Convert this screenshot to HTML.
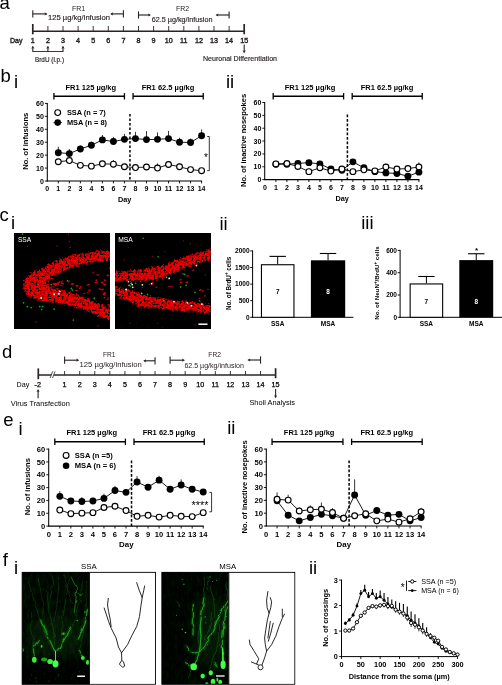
<!DOCTYPE html>
<html><head><meta charset="utf-8"><title>Figure</title>
<style>
html,body{margin:0;padding:0;background:#fff;}
body{width:502px;height:685px;overflow:hidden;}
svg{display:block;font-family:'Liberation Sans', sans-serif;}
</style></head><body>
<svg width="502" height="685" viewBox="0 0 502 685">
<defs>
<filter id="rough" x="-10%" y="-10%" width="120%" height="120%" color-interpolation-filters="sRGB">
<feGaussianBlur in="SourceAlpha" stdDeviation="2.4" result="soft"/>
<feTurbulence type="fractalNoise" baseFrequency="0.5" numOctaves="2" seed="4" result="n"/>
<feColorMatrix in="n" type="matrix" values="0 0 0 0 0  0 0 0 0 0  0 0 0 0 0  1 0 0 0 0" result="na"/>
<feComposite in="soft" in2="na" operator="arithmetic" k1="2.8" k2="-0.4" k3="0" k4="-0.47" result="sum"/>
<feComponentTransfer in="sum" result="mask"><feFuncA type="linear" slope="3.2" intercept="0"/></feComponentTransfer>
<feFlood flood-color="#ec0000" result="red"/>
<feComposite in="red" in2="mask" operator="in" result="band"/>
<feTurbulence type="fractalNoise" baseFrequency="0.42" numOctaves="2" seed="9" result="n2"/>
<feColorMatrix in="n2" type="matrix" values="0 0 0 0 0.25  0 0 0 0 0  0 0 0 0 0  0 2.2 0 0 -1.05" result="sp"/>
<feComposite in="sp" in2="mask" operator="in" result="sp2"/>
<feMerge><feMergeNode in="band"/><feMergeNode in="sp2"/></feMerge>
</filter>
<filter id="wig" x="-20%" y="-20%" width="140%" height="140%"><feTurbulence type="fractalNoise" baseFrequency="0.12" numOctaves="2" seed="21" result="t"/><feDisplacementMap in="SourceGraphic" in2="t" scale="4" xChannelSelector="R" yChannelSelector="G"/><feGaussianBlur stdDeviation="0.4"/></filter>
<filter id="wig2" x="-20%" y="-20%" width="140%" height="140%"><feTurbulence type="fractalNoise" baseFrequency="0.12" numOctaves="2" seed="21" result="t"/><feDisplacementMap in="SourceGraphic" in2="t" scale="4" xChannelSelector="R" yChannelSelector="G"/><feGaussianBlur stdDeviation="1.1"/></filter>
<filter id="b03"><feGaussianBlur stdDeviation="0.3"/></filter>
<filter id="b05"><feGaussianBlur stdDeviation="0.5"/></filter>
<filter id="b08"><feGaussianBlur stdDeviation="0.8"/></filter>
<filter id="b2"><feGaussianBlur stdDeviation="2.2"/></filter>
<filter id="b6"><feGaussianBlur stdDeviation="6"/></filter>
<filter id="gnoise" x="0" y="0" width="100%" height="100%" color-interpolation-filters="sRGB">
<feTurbulence type="fractalNoise" baseFrequency="0.3 0.13" numOctaves="3" seed="5"/>
<feColorMatrix type="matrix" values="0 0 0 0 0  0 1.1 0 0 -0.46  0 0 0 0 0  0 0 0 0 1"/>
</filter>
<filter id="gnoise2" x="0" y="0" width="100%" height="100%" color-interpolation-filters="sRGB">
<feTurbulence type="fractalNoise" baseFrequency="0.32 0.14" numOctaves="3" seed="12"/>
<feColorMatrix type="matrix" values="0 0 0 0 0  0 1.1 0 0 -0.47  0 0 0 0 0  0 0 0 0 1"/>
</filter>
<linearGradient id="fade1" x1="0" y1="0" x2="0" y2="1"><stop offset="0" stop-color="#000" stop-opacity="0.15"/><stop offset="0.75" stop-color="#000" stop-opacity="0.05"/><stop offset="0.84" stop-color="#000" stop-opacity="0.8"/><stop offset="1" stop-color="#000" stop-opacity="0.85"/></linearGradient>
<linearGradient id="fade2" x1="0" y1="0" x2="1" y2="0"><stop offset="0" stop-color="#000" stop-opacity="0.9"/><stop offset="0.3" stop-color="#000" stop-opacity="0.75"/><stop offset="0.6" stop-color="#000" stop-opacity="0.3"/><stop offset="1" stop-color="#000" stop-opacity="0.25"/></linearGradient>
<clipPath id="c1"><rect x="14" y="233" width="96" height="96"/></clipPath>
<clipPath id="c2"><rect x="115" y="233" width="96" height="96"/></clipPath>
<clipPath id="g1"><rect x="22.2" y="572.2" width="67" height="112"/></clipPath>
<clipPath id="g2"><rect x="161.8" y="572.2" width="66.8" height="112"/></clipPath>
</defs>
<rect width="502" height="685" fill="#fff"/>
<text x="-0.60" y="9.40" font-size="18.5" >a</text>
<text x="0.60" y="81.70" font-size="18.5" >b</text>
<text x="14.00" y="88.20" font-size="18.5" >i</text>
<text x="226.00" y="88.20" font-size="18.5" >ii</text>
<text x="-0.60" y="220.50" font-size="18.5" >c</text>
<text x="11.00" y="228.80" font-size="18.5" >i</text>
<text x="219.40" y="230.00" font-size="18.5" >ii</text>
<text x="361.20" y="229.20" font-size="18.5" >iii</text>
<text x="2.00" y="358.20" font-size="18.5" >d</text>
<text x="3.20" y="426.00" font-size="18.5" >e</text>
<text x="18.40" y="435.00" font-size="18.5" >i</text>
<text x="227.20" y="433.60" font-size="18.5" >ii</text>
<text x="2.80" y="566.40" font-size="18.5" >f</text>
<text x="14.00" y="574.00" font-size="18.5" >i</text>
<text x="309.00" y="573.50" font-size="18.5" >ii</text>
<line x1="32.80" y1="31.30" x2="244.20" y2="31.30" stroke="#2a2324" stroke-width="1.5" />
<line x1="32.80" y1="24.00" x2="32.80" y2="34.30" stroke="#2a2324" stroke-width="1.7" />
<line x1="244.20" y1="24.00" x2="244.20" y2="34.30" stroke="#2a2324" stroke-width="1.7" />
<line x1="47.90" y1="26.00" x2="47.90" y2="31.30" stroke="#2a2324" stroke-width="0.9" />
<line x1="63.00" y1="26.00" x2="63.00" y2="31.30" stroke="#2a2324" stroke-width="0.9" />
<line x1="78.10" y1="26.00" x2="78.10" y2="31.30" stroke="#2a2324" stroke-width="0.9" />
<line x1="93.20" y1="26.00" x2="93.20" y2="31.30" stroke="#2a2324" stroke-width="0.9" />
<line x1="108.30" y1="26.00" x2="108.30" y2="31.30" stroke="#2a2324" stroke-width="0.9" />
<line x1="123.40" y1="26.00" x2="123.40" y2="31.30" stroke="#2a2324" stroke-width="0.9" />
<line x1="138.50" y1="26.00" x2="138.50" y2="31.30" stroke="#2a2324" stroke-width="0.9" />
<line x1="153.60" y1="26.00" x2="153.60" y2="31.30" stroke="#2a2324" stroke-width="0.9" />
<line x1="168.70" y1="26.00" x2="168.70" y2="31.30" stroke="#2a2324" stroke-width="0.9" />
<line x1="183.80" y1="26.00" x2="183.80" y2="31.30" stroke="#2a2324" stroke-width="0.9" />
<line x1="198.90" y1="26.00" x2="198.90" y2="31.30" stroke="#2a2324" stroke-width="0.9" />
<line x1="214.00" y1="26.00" x2="214.00" y2="31.30" stroke="#2a2324" stroke-width="0.9" />
<line x1="229.10" y1="26.00" x2="229.10" y2="31.30" stroke="#2a2324" stroke-width="0.9" />
<text x="10.00" y="42.60" font-size="7.0" fill="#2a2324" stroke="#2a2324" stroke-width="0.4" >Day</text>
<text x="32.80" y="42.80" font-size="7.2" text-anchor="middle" fill="#2a2324" stroke="#2a2324" stroke-width="0.4" >1</text>
<text x="47.90" y="42.80" font-size="7.2" text-anchor="middle" fill="#2a2324" stroke="#2a2324" stroke-width="0.4" >2</text>
<text x="63.00" y="42.80" font-size="7.2" text-anchor="middle" fill="#2a2324" stroke="#2a2324" stroke-width="0.4" >3</text>
<text x="78.10" y="42.80" font-size="7.2" text-anchor="middle" fill="#2a2324" stroke="#2a2324" stroke-width="0.4" >4</text>
<text x="93.20" y="42.80" font-size="7.2" text-anchor="middle" fill="#2a2324" stroke="#2a2324" stroke-width="0.4" >5</text>
<text x="108.30" y="42.80" font-size="7.2" text-anchor="middle" fill="#2a2324" stroke="#2a2324" stroke-width="0.4" >6</text>
<text x="123.40" y="42.80" font-size="7.2" text-anchor="middle" fill="#2a2324" stroke="#2a2324" stroke-width="0.4" >7</text>
<text x="138.50" y="42.80" font-size="7.2" text-anchor="middle" fill="#2a2324" stroke="#2a2324" stroke-width="0.4" >8</text>
<text x="153.60" y="42.80" font-size="7.2" text-anchor="middle" fill="#2a2324" stroke="#2a2324" stroke-width="0.4" >9</text>
<text x="168.70" y="42.80" font-size="7.2" text-anchor="middle" fill="#2a2324" stroke="#2a2324" stroke-width="0.4" >10</text>
<text x="183.80" y="42.80" font-size="7.2" text-anchor="middle" fill="#2a2324" stroke="#2a2324" stroke-width="0.4" >11</text>
<text x="198.90" y="42.80" font-size="7.2" text-anchor="middle" fill="#2a2324" stroke="#2a2324" stroke-width="0.4" >12</text>
<text x="214.00" y="42.80" font-size="7.2" text-anchor="middle" fill="#2a2324" stroke="#2a2324" stroke-width="0.4" >13</text>
<text x="229.10" y="42.80" font-size="7.2" text-anchor="middle" fill="#2a2324" stroke="#2a2324" stroke-width="0.4" >14</text>
<text x="244.20" y="42.80" font-size="7.2" text-anchor="middle" fill="#2a2324" stroke="#2a2324" stroke-width="0.4" >15</text>
<text x="78.50" y="11.30" font-size="7.0" text-anchor="middle" fill="#2a2324" >FR1</text>
<line x1="32.80" y1="10.30" x2="32.80" y2="17.50" stroke="#2a2324" stroke-width="1.1" />
<line x1="32.80" y1="13.90" x2="46.50" y2="13.90" stroke="#2a2324" stroke-width="1.15" />
<path d="M47.50 13.90 l-3.0 -1.6 l0.7 1.6 l-0.7 1.6z" fill="#2a2324"/>
<text x="47.90" y="20.20" font-size="7.6" fill="#2a2324" textLength="62.1" lengthAdjust="spacingAndGlyphs" stroke="#2a2324" stroke-width="0.15" >125 µg/kg/infusion</text>
<line x1="123.40" y1="10.30" x2="123.40" y2="17.50" stroke="#2a2324" stroke-width="1.1" />
<line x1="111.20" y1="13.90" x2="123.40" y2="13.90" stroke="#2a2324" stroke-width="1.15" />
<path d="M110.20 13.90 l3.0 -1.6 l-0.7 1.6 l0.7 1.6z" fill="#2a2324"/>
<text x="182.50" y="11.30" font-size="7.0" text-anchor="middle" fill="#2a2324" >FR2</text>
<line x1="138.50" y1="11.40" x2="138.50" y2="18.60" stroke="#2a2324" stroke-width="1.1" />
<line x1="138.50" y1="15.00" x2="150.00" y2="15.00" stroke="#2a2324" stroke-width="1.15" />
<path d="M151.00 15.00 l-3.0 -1.6 l0.7 1.6 l-0.7 1.6z" fill="#2a2324"/>
<text x="151.80" y="21.50" font-size="7.6" fill="#2a2324" textLength="60.6" lengthAdjust="spacingAndGlyphs" stroke="#2a2324" stroke-width="0.15" >62.5 µg/kg/infusion</text>
<line x1="229.10" y1="11.40" x2="229.10" y2="18.60" stroke="#2a2324" stroke-width="1.1" />
<line x1="216.50" y1="15.00" x2="229.10" y2="15.00" stroke="#2a2324" stroke-width="1.15" />
<path d="M215.50 15.00 l3.0 -1.6 l-0.7 1.6 l0.7 1.6z" fill="#2a2324"/>
<line x1="32.80" y1="51.50" x2="32.80" y2="46.80" stroke="#2a2324" stroke-width="1.1" />
<path d="M32.80 45.80 l-1.6 3.00 l1.6 -0.70 l1.6 0.70z" fill="#2a2324"/>
<line x1="47.90" y1="51.50" x2="47.90" y2="46.80" stroke="#2a2324" stroke-width="1.1" />
<path d="M47.90 45.80 l-1.6 3.00 l1.6 -0.70 l1.6 0.70z" fill="#2a2324"/>
<line x1="63.00" y1="51.50" x2="63.00" y2="46.80" stroke="#2a2324" stroke-width="1.1" />
<path d="M63.00 45.80 l-1.6 3.00 l1.6 -0.70 l1.6 0.70z" fill="#2a2324"/>
<line x1="32.35" y1="51.50" x2="63.45" y2="51.50" stroke="#2a2324" stroke-width="0.9" />
<text x="49.50" y="61.50" font-size="6.6" text-anchor="middle" fill="#2a2324" textLength="29.0" lengthAdjust="spacingAndGlyphs" stroke="#2a2324" stroke-width="0.15" >BrdU (i.p.)</text>
<line x1="244.20" y1="44.60" x2="244.20" y2="52.20" stroke="#2a2324" stroke-width="1.1" />
<path d="M244.20 53.20 l-1.6 -3.00 l1.6 0.70 l1.6 -0.70z" fill="#2a2324"/>
<text x="240.00" y="60.60" font-size="7.0" text-anchor="middle" fill="#2a2324" textLength="74.0" lengthAdjust="spacingAndGlyphs" stroke="#2a2324" stroke-width="0.15" >Neuronal Differentiation</text>
<line x1="38.30" y1="375.00" x2="51.30" y2="375.00" stroke="#2a2324" stroke-width="1.5" />
<line x1="54.00" y1="375.00" x2="275.60" y2="375.00" stroke="#2a2324" stroke-width="1.5" />
<line x1="38.30" y1="368.40" x2="38.30" y2="379.20" stroke="#2a2324" stroke-width="1.7" />
<line x1="275.60" y1="368.20" x2="275.60" y2="378.20" stroke="#2a2324" stroke-width="1.7" />
<line x1="50.20" y1="378.00" x2="52.60" y2="371.40" stroke="#2a2324" stroke-width="0.8" />
<line x1="52.60" y1="378.00" x2="55.00" y2="371.40" stroke="#2a2324" stroke-width="0.8" />
<line x1="64.62" y1="371.00" x2="64.62" y2="375.00" stroke="#2a2324" stroke-width="0.9" />
<line x1="79.69" y1="371.00" x2="79.69" y2="375.00" stroke="#2a2324" stroke-width="0.9" />
<line x1="94.76" y1="371.00" x2="94.76" y2="375.00" stroke="#2a2324" stroke-width="0.9" />
<line x1="109.83" y1="371.00" x2="109.83" y2="375.00" stroke="#2a2324" stroke-width="0.9" />
<line x1="124.90" y1="371.00" x2="124.90" y2="375.00" stroke="#2a2324" stroke-width="0.9" />
<line x1="139.97" y1="371.00" x2="139.97" y2="375.00" stroke="#2a2324" stroke-width="0.9" />
<line x1="155.04" y1="371.00" x2="155.04" y2="375.00" stroke="#2a2324" stroke-width="0.9" />
<line x1="170.11" y1="371.00" x2="170.11" y2="375.00" stroke="#2a2324" stroke-width="0.9" />
<line x1="185.18" y1="371.00" x2="185.18" y2="375.00" stroke="#2a2324" stroke-width="0.9" />
<line x1="200.25" y1="371.00" x2="200.25" y2="375.00" stroke="#2a2324" stroke-width="0.9" />
<line x1="215.32" y1="371.00" x2="215.32" y2="375.00" stroke="#2a2324" stroke-width="0.9" />
<line x1="230.39" y1="371.00" x2="230.39" y2="375.00" stroke="#2a2324" stroke-width="0.9" />
<line x1="245.46" y1="371.00" x2="245.46" y2="375.00" stroke="#2a2324" stroke-width="0.9" />
<line x1="260.53" y1="371.00" x2="260.53" y2="375.00" stroke="#2a2324" stroke-width="0.9" />
<text x="16.60" y="387.20" font-size="7.2" >Day</text>
<text x="37.80" y="387.20" font-size="7.2" text-anchor="middle" stroke="#000" stroke-width="0.25" >-2</text>
<text x="64.62" y="387.20" font-size="7.2" text-anchor="middle" stroke="#000" stroke-width="0.25" >1</text>
<text x="79.69" y="387.20" font-size="7.2" text-anchor="middle" stroke="#000" stroke-width="0.25" >2</text>
<text x="94.76" y="387.20" font-size="7.2" text-anchor="middle" stroke="#000" stroke-width="0.25" >3</text>
<text x="109.83" y="387.20" font-size="7.2" text-anchor="middle" stroke="#000" stroke-width="0.25" >4</text>
<text x="124.90" y="387.20" font-size="7.2" text-anchor="middle" stroke="#000" stroke-width="0.25" >5</text>
<text x="139.97" y="387.20" font-size="7.2" text-anchor="middle" stroke="#000" stroke-width="0.25" >6</text>
<text x="155.04" y="387.20" font-size="7.2" text-anchor="middle" stroke="#000" stroke-width="0.25" >7</text>
<text x="170.11" y="387.20" font-size="7.2" text-anchor="middle" stroke="#000" stroke-width="0.25" >8</text>
<text x="185.18" y="387.20" font-size="7.2" text-anchor="middle" stroke="#000" stroke-width="0.25" >9</text>
<text x="200.25" y="387.20" font-size="7.2" text-anchor="middle" stroke="#000" stroke-width="0.25" >10</text>
<text x="215.32" y="387.20" font-size="7.2" text-anchor="middle" stroke="#000" stroke-width="0.25" >11</text>
<text x="230.39" y="387.20" font-size="7.2" text-anchor="middle" stroke="#000" stroke-width="0.25" >12</text>
<text x="245.46" y="387.20" font-size="7.2" text-anchor="middle" stroke="#000" stroke-width="0.25" >13</text>
<text x="260.53" y="387.20" font-size="7.2" text-anchor="middle" stroke="#000" stroke-width="0.25" >14</text>
<text x="275.60" y="387.20" font-size="7.2" text-anchor="middle" stroke="#000" stroke-width="0.25" >15</text>
<line x1="38.10" y1="398.20" x2="38.10" y2="390.00" stroke="#2a2324" stroke-width="1.1" />
<path d="M38.10 389.00 l-1.6 3.00 l1.6 -0.70 l1.6 0.70z" fill="#2a2324"/>
<text x="10.80" y="405.90" font-size="7.4" >Virus Transfection</text>
<line x1="275.60" y1="389.00" x2="275.60" y2="397.20" stroke="#2a2324" stroke-width="1.1" />
<path d="M275.60 398.20 l-1.6 -3.00 l1.6 0.70 l1.6 -0.70z" fill="#2a2324"/>
<text x="249.40" y="405.20" font-size="7.4" >Sholl Analysis</text>
<text x="109.30" y="357.40" font-size="6.6" text-anchor="middle" fill="#2a2324" >FR1</text>
<line x1="64.62" y1="356.60" x2="64.62" y2="363.80" stroke="#2a2324" stroke-width="1.1" />
<line x1="64.62" y1="360.20" x2="78.20" y2="360.20" stroke="#2a2324" stroke-width="1.15" />
<path d="M79.20 360.20 l-3.0 -1.6 l0.7 1.6 l-0.7 1.6z" fill="#2a2324"/>
<text x="79.60" y="366.60" font-size="7.2" fill="#2a2324" textLength="62.3" lengthAdjust="spacingAndGlyphs" >125 µg/kg/infusion</text>
<line x1="155.04" y1="357.20" x2="155.04" y2="364.40" stroke="#2a2324" stroke-width="1.1" />
<line x1="144.20" y1="360.80" x2="155.04" y2="360.80" stroke="#2a2324" stroke-width="1.15" />
<path d="M143.20 360.80 l3.0 -1.6 l-0.7 1.6 l0.7 1.6z" fill="#2a2324"/>
<text x="214.60" y="357.40" font-size="6.6" text-anchor="middle" fill="#2a2324" >FR2</text>
<line x1="170.11" y1="356.60" x2="170.11" y2="363.80" stroke="#2a2324" stroke-width="1.1" />
<line x1="170.11" y1="360.20" x2="184.00" y2="360.20" stroke="#2a2324" stroke-width="1.15" />
<path d="M185.00 360.20 l-3.0 -1.6 l0.7 1.6 l-0.7 1.6z" fill="#2a2324"/>
<text x="184.40" y="368.00" font-size="7.0" fill="#2a2324" textLength="59.5" lengthAdjust="spacingAndGlyphs" >62.5 µg/kg/infusion</text>
<line x1="260.53" y1="356.40" x2="260.53" y2="363.60" stroke="#2a2324" stroke-width="1.1" />
<line x1="248.40" y1="360.00" x2="260.53" y2="360.00" stroke="#2a2324" stroke-width="1.15" />
<path d="M247.40 360.00 l3.0 -1.6 l-0.7 1.6 l0.7 1.6z" fill="#2a2324"/>
<line x1="47.30" y1="102.92" x2="47.30" y2="181.50" stroke="#000" stroke-width="1.05" />
<line x1="46.80" y1="181.00" x2="202.08" y2="181.00" stroke="#000" stroke-width="1.1" />
<line x1="44.90" y1="181.00" x2="47.30" y2="181.00" stroke="#000" stroke-width="0.9" />
<text x="43.90" y="183.50" font-size="7" font-weight="bold" text-anchor="end" >0</text>
<line x1="44.90" y1="168.07" x2="47.30" y2="168.07" stroke="#000" stroke-width="0.9" />
<text x="43.90" y="170.57" font-size="7" font-weight="bold" text-anchor="end" >10</text>
<line x1="44.90" y1="155.14" x2="47.30" y2="155.14" stroke="#000" stroke-width="0.9" />
<text x="43.90" y="157.64" font-size="7" font-weight="bold" text-anchor="end" >20</text>
<line x1="44.90" y1="142.21" x2="47.30" y2="142.21" stroke="#000" stroke-width="0.9" />
<text x="43.90" y="144.71" font-size="7" font-weight="bold" text-anchor="end" >30</text>
<line x1="44.90" y1="129.28" x2="47.30" y2="129.28" stroke="#000" stroke-width="0.9" />
<text x="43.90" y="131.78" font-size="7" font-weight="bold" text-anchor="end" >40</text>
<line x1="44.90" y1="116.35" x2="47.30" y2="116.35" stroke="#000" stroke-width="0.9" />
<text x="43.90" y="118.85" font-size="7" font-weight="bold" text-anchor="end" >50</text>
<line x1="44.90" y1="103.42" x2="47.30" y2="103.42" stroke="#000" stroke-width="0.9" />
<text x="43.90" y="105.92" font-size="7" font-weight="bold" text-anchor="end" >60</text>
<text x="47.30" y="190.60" font-size="7" font-weight="bold" text-anchor="middle" >0</text>
<line x1="58.32" y1="181.00" x2="58.32" y2="183.40" stroke="#000" stroke-width="0.9" />
<text x="58.32" y="190.60" font-size="7" font-weight="bold" text-anchor="middle" >1</text>
<line x1="69.34" y1="181.00" x2="69.34" y2="183.40" stroke="#000" stroke-width="0.9" />
<text x="69.34" y="190.60" font-size="7" font-weight="bold" text-anchor="middle" >2</text>
<line x1="80.36" y1="181.00" x2="80.36" y2="183.40" stroke="#000" stroke-width="0.9" />
<text x="80.36" y="190.60" font-size="7" font-weight="bold" text-anchor="middle" >3</text>
<line x1="91.38" y1="181.00" x2="91.38" y2="183.40" stroke="#000" stroke-width="0.9" />
<text x="91.38" y="190.60" font-size="7" font-weight="bold" text-anchor="middle" >4</text>
<line x1="102.40" y1="181.00" x2="102.40" y2="183.40" stroke="#000" stroke-width="0.9" />
<text x="102.40" y="190.60" font-size="7" font-weight="bold" text-anchor="middle" >5</text>
<line x1="113.42" y1="181.00" x2="113.42" y2="183.40" stroke="#000" stroke-width="0.9" />
<text x="113.42" y="190.60" font-size="7" font-weight="bold" text-anchor="middle" >6</text>
<line x1="124.44" y1="181.00" x2="124.44" y2="183.40" stroke="#000" stroke-width="0.9" />
<text x="124.44" y="190.60" font-size="7" font-weight="bold" text-anchor="middle" >7</text>
<line x1="135.46" y1="181.00" x2="135.46" y2="183.40" stroke="#000" stroke-width="0.9" />
<text x="135.46" y="190.60" font-size="7" font-weight="bold" text-anchor="middle" >8</text>
<line x1="146.48" y1="181.00" x2="146.48" y2="183.40" stroke="#000" stroke-width="0.9" />
<text x="146.48" y="190.60" font-size="7" font-weight="bold" text-anchor="middle" >9</text>
<line x1="157.50" y1="181.00" x2="157.50" y2="183.40" stroke="#000" stroke-width="0.9" />
<text x="157.50" y="190.60" font-size="7" font-weight="bold" text-anchor="middle" >10</text>
<line x1="168.52" y1="181.00" x2="168.52" y2="183.40" stroke="#000" stroke-width="0.9" />
<text x="168.52" y="190.60" font-size="7" font-weight="bold" text-anchor="middle" >11</text>
<line x1="179.54" y1="181.00" x2="179.54" y2="183.40" stroke="#000" stroke-width="0.9" />
<text x="179.54" y="190.60" font-size="7" font-weight="bold" text-anchor="middle" >12</text>
<line x1="190.56" y1="181.00" x2="190.56" y2="183.40" stroke="#000" stroke-width="0.9" />
<text x="190.56" y="190.60" font-size="7" font-weight="bold" text-anchor="middle" >13</text>
<line x1="201.58" y1="181.00" x2="201.58" y2="183.40" stroke="#000" stroke-width="0.9" />
<text x="201.58" y="190.60" font-size="7" font-weight="bold" text-anchor="middle" >14</text>
<text x="124.74" y="202.00" font-size="7.3" font-weight="bold" text-anchor="middle" >Day</text>
<text x="27.60" y="141.21" font-size="7.55" font-weight="bold" text-anchor="middle" transform="rotate(-90 27.60 141.21)" >No. of infusions</text>
<line x1="129.95" y1="114.00" x2="129.95" y2="181.00" stroke="#000" stroke-width="1.5" stroke-dasharray="2.6 1.9"/>
<line x1="53.91" y1="96.30" x2="124.44" y2="96.30" stroke="#000" stroke-width="1.6" />
<line x1="53.91" y1="93.10" x2="53.91" y2="99.50" stroke="#000" stroke-width="1.3" />
<line x1="124.44" y1="93.10" x2="124.44" y2="99.50" stroke="#000" stroke-width="1.3" />
<line x1="133.04" y1="96.30" x2="203.23" y2="96.30" stroke="#000" stroke-width="1.6" />
<line x1="133.04" y1="93.10" x2="133.04" y2="99.50" stroke="#000" stroke-width="1.3" />
<line x1="203.23" y1="93.10" x2="203.23" y2="99.50" stroke="#000" stroke-width="1.3" />
<text x="90.83" y="89.80" font-size="7.5" font-weight="bold" text-anchor="middle" >FR1 125 µg/kg</text>
<text x="167.97" y="89.80" font-size="7.5" font-weight="bold" text-anchor="middle" >FR1 62.5 µg/kg</text>
<line x1="58.32" y1="152.68" x2="58.32" y2="146.74" stroke="#000" stroke-width="0.8" />
<line x1="69.34" y1="153.59" x2="69.34" y2="148.93" stroke="#000" stroke-width="0.8" />
<line x1="80.36" y1="148.93" x2="80.36" y2="145.57" stroke="#000" stroke-width="0.8" />
<line x1="91.38" y1="145.31" x2="91.38" y2="141.69" stroke="#000" stroke-width="0.8" />
<line x1="102.40" y1="139.88" x2="102.40" y2="134.97" stroke="#000" stroke-width="0.8" />
<line x1="113.42" y1="141.56" x2="113.42" y2="136.91" stroke="#000" stroke-width="0.8" />
<line x1="124.44" y1="139.37" x2="124.44" y2="133.93" stroke="#000" stroke-width="0.8" />
<line x1="135.46" y1="138.59" x2="135.46" y2="131.87" stroke="#000" stroke-width="0.8" />
<line x1="146.48" y1="139.62" x2="146.48" y2="131.09" stroke="#000" stroke-width="0.8" />
<line x1="157.50" y1="139.37" x2="157.50" y2="132.38" stroke="#000" stroke-width="0.8" />
<line x1="168.52" y1="138.59" x2="168.52" y2="130.83" stroke="#000" stroke-width="0.8" />
<line x1="179.54" y1="142.21" x2="179.54" y2="137.81" stroke="#000" stroke-width="0.8" />
<line x1="190.56" y1="142.47" x2="190.56" y2="138.59" stroke="#000" stroke-width="0.8" />
<line x1="201.58" y1="135.75" x2="201.58" y2="129.54" stroke="#000" stroke-width="0.8" />
<polyline points="58.32,152.68 69.34,153.59 80.36,148.93 91.38,145.31 102.40,139.88 113.42,141.56 124.44,139.37 135.46,138.59 146.48,139.62 157.50,139.37 168.52,138.59 179.54,142.21 190.56,142.47 201.58,135.75" fill="none" stroke="#000" stroke-width="0.9" />
<circle cx="58.32" cy="152.68" r="3.45"/>
<circle cx="69.34" cy="153.59" r="3.45"/>
<circle cx="80.36" cy="148.93" r="3.45"/>
<circle cx="91.38" cy="145.31" r="3.45"/>
<circle cx="102.40" cy="139.88" r="3.45"/>
<circle cx="113.42" cy="141.56" r="3.45"/>
<circle cx="124.44" cy="139.37" r="3.45"/>
<circle cx="135.46" cy="138.59" r="3.45"/>
<circle cx="146.48" cy="139.62" r="3.45"/>
<circle cx="157.50" cy="139.37" r="3.45"/>
<circle cx="168.52" cy="138.59" r="3.45"/>
<circle cx="179.54" cy="142.21" r="3.45"/>
<circle cx="190.56" cy="142.47" r="3.45"/>
<circle cx="201.58" cy="135.75" r="3.45"/>
<line x1="58.32" y1="161.73" x2="58.32" y2="159.15" stroke="#000" stroke-width="0.8" />
<line x1="69.34" y1="160.57" x2="69.34" y2="157.98" stroke="#000" stroke-width="0.8" />
<line x1="80.36" y1="165.35" x2="80.36" y2="163.80" stroke="#000" stroke-width="0.8" />
<line x1="91.38" y1="166.13" x2="91.38" y2="164.58" stroke="#000" stroke-width="0.8" />
<line x1="102.40" y1="163.80" x2="102.40" y2="161.48" stroke="#000" stroke-width="0.8" />
<line x1="113.42" y1="164.19" x2="113.42" y2="160.05" stroke="#000" stroke-width="0.8" />
<line x1="124.44" y1="166.78" x2="124.44" y2="164.19" stroke="#000" stroke-width="0.8" />
<line x1="135.46" y1="167.55" x2="135.46" y2="165.48" stroke="#000" stroke-width="0.8" />
<line x1="146.48" y1="167.04" x2="146.48" y2="164.97" stroke="#000" stroke-width="0.8" />
<line x1="157.50" y1="168.07" x2="157.50" y2="163.42" stroke="#000" stroke-width="0.8" />
<line x1="168.52" y1="164.45" x2="168.52" y2="161.09" stroke="#000" stroke-width="0.8" />
<line x1="179.54" y1="166.78" x2="179.54" y2="163.67" stroke="#000" stroke-width="0.8" />
<line x1="190.56" y1="169.62" x2="190.56" y2="168.07" stroke="#000" stroke-width="0.8" />
<line x1="201.58" y1="170.66" x2="201.58" y2="169.10" stroke="#000" stroke-width="0.8" />
<polyline points="58.32,161.73 69.34,160.57 80.36,165.35 91.38,166.13 102.40,163.80 113.42,164.19 124.44,166.78 135.46,167.55 146.48,167.04 157.50,168.07 168.52,164.45 179.54,166.78 190.56,169.62 201.58,170.66" fill="none" stroke="#000" stroke-width="0.9" />
<circle cx="58.32" cy="161.73" r="2.9" fill="#fff" stroke="#000" stroke-width="1.15"/>
<circle cx="69.34" cy="160.57" r="2.9" fill="#fff" stroke="#000" stroke-width="1.15"/>
<circle cx="80.36" cy="165.35" r="2.9" fill="#fff" stroke="#000" stroke-width="1.15"/>
<circle cx="91.38" cy="166.13" r="2.9" fill="#fff" stroke="#000" stroke-width="1.15"/>
<circle cx="102.40" cy="163.80" r="2.9" fill="#fff" stroke="#000" stroke-width="1.15"/>
<circle cx="113.42" cy="164.19" r="2.9" fill="#fff" stroke="#000" stroke-width="1.15"/>
<circle cx="124.44" cy="166.78" r="2.9" fill="#fff" stroke="#000" stroke-width="1.15"/>
<circle cx="135.46" cy="167.55" r="2.9" fill="#fff" stroke="#000" stroke-width="1.15"/>
<circle cx="146.48" cy="167.04" r="2.9" fill="#fff" stroke="#000" stroke-width="1.15"/>
<circle cx="157.50" cy="168.07" r="2.9" fill="#fff" stroke="#000" stroke-width="1.15"/>
<circle cx="168.52" cy="164.45" r="2.9" fill="#fff" stroke="#000" stroke-width="1.15"/>
<circle cx="179.54" cy="166.78" r="2.9" fill="#fff" stroke="#000" stroke-width="1.15"/>
<circle cx="190.56" cy="169.62" r="2.9" fill="#fff" stroke="#000" stroke-width="1.15"/>
<circle cx="201.58" cy="170.66" r="2.9" fill="#fff" stroke="#000" stroke-width="1.15"/>
<circle cx="57.70" cy="112.60" r="2.9" fill="#fff" stroke="#000" stroke-width="1.15"/>
<line x1="53.50" y1="122.60" x2="61.90" y2="122.60" stroke="#000" stroke-width="0.9" />
<circle cx="57.70" cy="122.60" r="3.3"/>
<text x="66.90" y="115.20" font-size="7.4" font-weight="bold" >SSA (n = 7)</text>
<text x="66.90" y="125.20" font-size="7.4" font-weight="bold" >MSA (n = 8)</text>
<polyline points="207.20,136.50 209.30,136.50 209.30,170.70 207.20,170.70" fill="none" stroke="#000" stroke-width="0.8" />
<text x="206.00" y="160.60" font-size="10" text-anchor="middle" >*</text>
<line x1="264.70" y1="102.00" x2="264.70" y2="180.10" stroke="#000" stroke-width="1.05" />
<line x1="264.20" y1="179.60" x2="419.40" y2="179.60" stroke="#000" stroke-width="1.1" />
<line x1="262.30" y1="179.60" x2="264.70" y2="179.60" stroke="#000" stroke-width="0.9" />
<text x="261.30" y="182.10" font-size="7" font-weight="bold" text-anchor="end" >0</text>
<line x1="262.30" y1="166.75" x2="264.70" y2="166.75" stroke="#000" stroke-width="0.9" />
<text x="261.30" y="169.25" font-size="7" font-weight="bold" text-anchor="end" >10</text>
<line x1="262.30" y1="153.90" x2="264.70" y2="153.90" stroke="#000" stroke-width="0.9" />
<text x="261.30" y="156.40" font-size="7" font-weight="bold" text-anchor="end" >20</text>
<line x1="262.30" y1="141.05" x2="264.70" y2="141.05" stroke="#000" stroke-width="0.9" />
<text x="261.30" y="143.55" font-size="7" font-weight="bold" text-anchor="end" >30</text>
<line x1="262.30" y1="128.20" x2="264.70" y2="128.20" stroke="#000" stroke-width="0.9" />
<text x="261.30" y="130.70" font-size="7" font-weight="bold" text-anchor="end" >40</text>
<line x1="262.30" y1="115.35" x2="264.70" y2="115.35" stroke="#000" stroke-width="0.9" />
<text x="261.30" y="117.85" font-size="7" font-weight="bold" text-anchor="end" >50</text>
<line x1="262.30" y1="102.50" x2="264.70" y2="102.50" stroke="#000" stroke-width="0.9" />
<text x="261.30" y="105.00" font-size="7" font-weight="bold" text-anchor="end" >60</text>
<text x="264.90" y="189.60" font-size="7" font-weight="bold" text-anchor="middle" >0</text>
<line x1="275.90" y1="179.60" x2="275.90" y2="182.00" stroke="#000" stroke-width="0.9" />
<text x="275.90" y="189.60" font-size="7" font-weight="bold" text-anchor="middle" >1</text>
<line x1="286.90" y1="179.60" x2="286.90" y2="182.00" stroke="#000" stroke-width="0.9" />
<text x="286.90" y="189.60" font-size="7" font-weight="bold" text-anchor="middle" >2</text>
<line x1="297.90" y1="179.60" x2="297.90" y2="182.00" stroke="#000" stroke-width="0.9" />
<text x="297.90" y="189.60" font-size="7" font-weight="bold" text-anchor="middle" >3</text>
<line x1="308.90" y1="179.60" x2="308.90" y2="182.00" stroke="#000" stroke-width="0.9" />
<text x="308.90" y="189.60" font-size="7" font-weight="bold" text-anchor="middle" >4</text>
<line x1="319.90" y1="179.60" x2="319.90" y2="182.00" stroke="#000" stroke-width="0.9" />
<text x="319.90" y="189.60" font-size="7" font-weight="bold" text-anchor="middle" >5</text>
<line x1="330.90" y1="179.60" x2="330.90" y2="182.00" stroke="#000" stroke-width="0.9" />
<text x="330.90" y="189.60" font-size="7" font-weight="bold" text-anchor="middle" >6</text>
<line x1="341.90" y1="179.60" x2="341.90" y2="182.00" stroke="#000" stroke-width="0.9" />
<text x="341.90" y="189.60" font-size="7" font-weight="bold" text-anchor="middle" >7</text>
<line x1="352.90" y1="179.60" x2="352.90" y2="182.00" stroke="#000" stroke-width="0.9" />
<text x="352.90" y="189.60" font-size="7" font-weight="bold" text-anchor="middle" >8</text>
<line x1="363.90" y1="179.60" x2="363.90" y2="182.00" stroke="#000" stroke-width="0.9" />
<text x="363.90" y="189.60" font-size="7" font-weight="bold" text-anchor="middle" >9</text>
<line x1="374.90" y1="179.60" x2="374.90" y2="182.00" stroke="#000" stroke-width="0.9" />
<text x="374.90" y="189.60" font-size="7" font-weight="bold" text-anchor="middle" >10</text>
<line x1="385.90" y1="179.60" x2="385.90" y2="182.00" stroke="#000" stroke-width="0.9" />
<text x="385.90" y="189.60" font-size="7" font-weight="bold" text-anchor="middle" >11</text>
<line x1="396.90" y1="179.60" x2="396.90" y2="182.00" stroke="#000" stroke-width="0.9" />
<text x="396.90" y="189.60" font-size="7" font-weight="bold" text-anchor="middle" >12</text>
<line x1="407.90" y1="179.60" x2="407.90" y2="182.00" stroke="#000" stroke-width="0.9" />
<text x="407.90" y="189.60" font-size="7" font-weight="bold" text-anchor="middle" >13</text>
<line x1="418.90" y1="179.60" x2="418.90" y2="182.00" stroke="#000" stroke-width="0.9" />
<text x="418.90" y="189.60" font-size="7" font-weight="bold" text-anchor="middle" >14</text>
<text x="342.20" y="200.80" font-size="7.3" font-weight="bold" text-anchor="middle" >Day</text>
<text x="246.20" y="140.45" font-size="7.55" font-weight="bold" text-anchor="middle" transform="rotate(-90 246.20 140.45)" >No. of inactive nosepokes</text>
<line x1="347.40" y1="114.60" x2="347.40" y2="179.60" stroke="#000" stroke-width="1.5" stroke-dasharray="2.6 1.9"/>
<line x1="273.20" y1="96.30" x2="343.60" y2="96.30" stroke="#000" stroke-width="1.6" />
<line x1="273.20" y1="93.10" x2="273.20" y2="99.50" stroke="#000" stroke-width="1.3" />
<line x1="343.60" y1="93.10" x2="343.60" y2="99.50" stroke="#000" stroke-width="1.3" />
<line x1="352.18" y1="96.30" x2="422.25" y2="96.30" stroke="#000" stroke-width="1.6" />
<line x1="352.18" y1="93.10" x2="352.18" y2="99.50" stroke="#000" stroke-width="1.3" />
<line x1="422.25" y1="93.10" x2="422.25" y2="99.50" stroke="#000" stroke-width="1.3" />
<text x="310.05" y="89.80" font-size="7.5" font-weight="bold" text-anchor="middle" >FR1 125 µg/kg</text>
<text x="387.05" y="89.80" font-size="7.5" font-weight="bold" text-anchor="middle" >FR1 62.5 µg/kg</text>
<line x1="297.90" y1="163.41" x2="297.90" y2="160.07" stroke="#000" stroke-width="0.8" />
<line x1="308.90" y1="162.64" x2="308.90" y2="160.71" stroke="#000" stroke-width="0.8" />
<line x1="319.90" y1="163.92" x2="319.90" y2="161.10" stroke="#000" stroke-width="0.8" />
<line x1="330.90" y1="169.06" x2="330.90" y2="167.14" stroke="#000" stroke-width="0.8" />
<line x1="341.90" y1="170.35" x2="341.90" y2="168.42" stroke="#000" stroke-width="0.8" />
<line x1="352.90" y1="161.87" x2="352.90" y2="159.04" stroke="#000" stroke-width="0.8" />
<line x1="363.90" y1="167.78" x2="363.90" y2="165.21" stroke="#000" stroke-width="0.8" />
<line x1="418.90" y1="172.15" x2="418.90" y2="169.58" stroke="#000" stroke-width="0.8" />
<polyline points="275.90,164.18 286.90,164.18 297.90,163.41 308.90,162.64 319.90,163.92 330.90,169.06 341.90,170.35 352.90,161.87 363.90,167.78 374.90,171.63 385.90,172.92 396.90,173.43 407.90,176.26 418.90,172.15" fill="none" stroke="#000" stroke-width="0.9" />
<circle cx="275.90" cy="164.18" r="3.45"/>
<circle cx="286.90" cy="164.18" r="3.45"/>
<circle cx="297.90" cy="163.41" r="3.45"/>
<circle cx="308.90" cy="162.64" r="3.45"/>
<circle cx="319.90" cy="163.92" r="3.45"/>
<circle cx="330.90" cy="169.06" r="3.45"/>
<circle cx="341.90" cy="170.35" r="3.45"/>
<circle cx="352.90" cy="161.87" r="3.45"/>
<circle cx="363.90" cy="167.78" r="3.45"/>
<circle cx="374.90" cy="171.63" r="3.45"/>
<circle cx="385.90" cy="172.92" r="3.45"/>
<circle cx="396.90" cy="173.43" r="3.45"/>
<circle cx="407.90" cy="176.26" r="3.45"/>
<circle cx="418.90" cy="172.15" r="3.45"/>
<line x1="275.90" y1="163.92" x2="275.90" y2="162.00" stroke="#000" stroke-width="0.8" />
<line x1="286.90" y1="163.54" x2="286.90" y2="161.61" stroke="#000" stroke-width="0.8" />
<line x1="297.90" y1="166.49" x2="297.90" y2="164.57" stroke="#000" stroke-width="0.8" />
<line x1="319.90" y1="167.78" x2="319.90" y2="165.85" stroke="#000" stroke-width="0.8" />
<line x1="341.90" y1="169.06" x2="341.90" y2="167.14" stroke="#000" stroke-width="0.8" />
<line x1="363.90" y1="169.83" x2="363.90" y2="167.91" stroke="#000" stroke-width="0.8" />
<line x1="374.90" y1="170.86" x2="374.90" y2="168.93" stroke="#000" stroke-width="0.8" />
<line x1="385.90" y1="167.01" x2="385.90" y2="163.79" stroke="#000" stroke-width="0.8" />
<line x1="396.90" y1="169.06" x2="396.90" y2="166.49" stroke="#000" stroke-width="0.8" />
<line x1="407.90" y1="168.55" x2="407.90" y2="165.98" stroke="#000" stroke-width="0.8" />
<line x1="418.90" y1="167.01" x2="418.90" y2="162.38" stroke="#000" stroke-width="0.8" />
<polyline points="275.90,163.92 286.90,163.54 297.90,166.49 308.90,171.63 319.90,167.78 330.90,171.12 341.90,169.06 352.90,171.63 363.90,169.83 374.90,170.86 385.90,167.01 396.90,169.06 407.90,168.55 418.90,167.01" fill="none" stroke="#000" stroke-width="0.9" />
<circle cx="275.90" cy="163.92" r="2.9" fill="#fff" stroke="#000" stroke-width="1.15"/>
<circle cx="286.90" cy="163.54" r="2.9" fill="#fff" stroke="#000" stroke-width="1.15"/>
<circle cx="297.90" cy="166.49" r="2.9" fill="#fff" stroke="#000" stroke-width="1.15"/>
<circle cx="308.90" cy="171.63" r="2.9" fill="#fff" stroke="#000" stroke-width="1.15"/>
<circle cx="319.90" cy="167.78" r="2.9" fill="#fff" stroke="#000" stroke-width="1.15"/>
<circle cx="330.90" cy="171.12" r="2.9" fill="#fff" stroke="#000" stroke-width="1.15"/>
<circle cx="341.90" cy="169.06" r="2.9" fill="#fff" stroke="#000" stroke-width="1.15"/>
<circle cx="352.90" cy="171.63" r="2.9" fill="#fff" stroke="#000" stroke-width="1.15"/>
<circle cx="363.90" cy="169.83" r="2.9" fill="#fff" stroke="#000" stroke-width="1.15"/>
<circle cx="374.90" cy="170.86" r="2.9" fill="#fff" stroke="#000" stroke-width="1.15"/>
<circle cx="385.90" cy="167.01" r="2.9" fill="#fff" stroke="#000" stroke-width="1.15"/>
<circle cx="396.90" cy="169.06" r="2.9" fill="#fff" stroke="#000" stroke-width="1.15"/>
<circle cx="407.90" cy="168.55" r="2.9" fill="#fff" stroke="#000" stroke-width="1.15"/>
<circle cx="418.90" cy="167.01" r="2.9" fill="#fff" stroke="#000" stroke-width="1.15"/>
<line x1="48.70" y1="448.62" x2="48.70" y2="526.60" stroke="#000" stroke-width="1.05" />
<line x1="48.20" y1="526.10" x2="203.72" y2="526.10" stroke="#000" stroke-width="1.1" />
<line x1="46.30" y1="526.10" x2="48.70" y2="526.10" stroke="#000" stroke-width="0.9" />
<text x="45.30" y="528.81" font-size="7.6" font-weight="bold" text-anchor="end" >0</text>
<line x1="46.30" y1="513.27" x2="48.70" y2="513.27" stroke="#000" stroke-width="0.9" />
<text x="45.30" y="515.98" font-size="7.6" font-weight="bold" text-anchor="end" >10</text>
<line x1="46.30" y1="500.44" x2="48.70" y2="500.44" stroke="#000" stroke-width="0.9" />
<text x="45.30" y="503.15" font-size="7.6" font-weight="bold" text-anchor="end" >20</text>
<line x1="46.30" y1="487.61" x2="48.70" y2="487.61" stroke="#000" stroke-width="0.9" />
<text x="45.30" y="490.32" font-size="7.6" font-weight="bold" text-anchor="end" >30</text>
<line x1="46.30" y1="474.78" x2="48.70" y2="474.78" stroke="#000" stroke-width="0.9" />
<text x="45.30" y="477.49" font-size="7.6" font-weight="bold" text-anchor="end" >40</text>
<line x1="46.30" y1="461.95" x2="48.70" y2="461.95" stroke="#000" stroke-width="0.9" />
<text x="45.30" y="464.66" font-size="7.6" font-weight="bold" text-anchor="end" >50</text>
<line x1="46.30" y1="449.12" x2="48.70" y2="449.12" stroke="#000" stroke-width="0.9" />
<text x="45.30" y="451.83" font-size="7.6" font-weight="bold" text-anchor="end" >60</text>
<text x="48.80" y="537.00" font-size="7.6" font-weight="bold" text-anchor="middle" >0</text>
<line x1="59.83" y1="526.10" x2="59.83" y2="528.50" stroke="#000" stroke-width="0.9" />
<text x="59.83" y="537.00" font-size="7.6" font-weight="bold" text-anchor="middle" >1</text>
<line x1="70.86" y1="526.10" x2="70.86" y2="528.50" stroke="#000" stroke-width="0.9" />
<text x="70.86" y="537.00" font-size="7.6" font-weight="bold" text-anchor="middle" >2</text>
<line x1="81.89" y1="526.10" x2="81.89" y2="528.50" stroke="#000" stroke-width="0.9" />
<text x="81.89" y="537.00" font-size="7.6" font-weight="bold" text-anchor="middle" >3</text>
<line x1="92.92" y1="526.10" x2="92.92" y2="528.50" stroke="#000" stroke-width="0.9" />
<text x="92.92" y="537.00" font-size="7.6" font-weight="bold" text-anchor="middle" >4</text>
<line x1="103.95" y1="526.10" x2="103.95" y2="528.50" stroke="#000" stroke-width="0.9" />
<text x="103.95" y="537.00" font-size="7.6" font-weight="bold" text-anchor="middle" >5</text>
<line x1="114.98" y1="526.10" x2="114.98" y2="528.50" stroke="#000" stroke-width="0.9" />
<text x="114.98" y="537.00" font-size="7.6" font-weight="bold" text-anchor="middle" >6</text>
<line x1="126.01" y1="526.10" x2="126.01" y2="528.50" stroke="#000" stroke-width="0.9" />
<text x="126.01" y="537.00" font-size="7.6" font-weight="bold" text-anchor="middle" >7</text>
<line x1="137.04" y1="526.10" x2="137.04" y2="528.50" stroke="#000" stroke-width="0.9" />
<text x="137.04" y="537.00" font-size="7.6" font-weight="bold" text-anchor="middle" >8</text>
<line x1="148.07" y1="526.10" x2="148.07" y2="528.50" stroke="#000" stroke-width="0.9" />
<text x="148.07" y="537.00" font-size="7.6" font-weight="bold" text-anchor="middle" >9</text>
<line x1="159.10" y1="526.10" x2="159.10" y2="528.50" stroke="#000" stroke-width="0.9" />
<text x="159.10" y="537.00" font-size="7.6" font-weight="bold" text-anchor="middle" >10</text>
<line x1="170.13" y1="526.10" x2="170.13" y2="528.50" stroke="#000" stroke-width="0.9" />
<text x="170.13" y="537.00" font-size="7.6" font-weight="bold" text-anchor="middle" >11</text>
<line x1="181.16" y1="526.10" x2="181.16" y2="528.50" stroke="#000" stroke-width="0.9" />
<text x="181.16" y="537.00" font-size="7.6" font-weight="bold" text-anchor="middle" >12</text>
<line x1="192.19" y1="526.10" x2="192.19" y2="528.50" stroke="#000" stroke-width="0.9" />
<text x="192.19" y="537.00" font-size="7.6" font-weight="bold" text-anchor="middle" >13</text>
<line x1="203.22" y1="526.10" x2="203.22" y2="528.50" stroke="#000" stroke-width="0.9" />
<text x="203.22" y="537.00" font-size="7.6" font-weight="bold" text-anchor="middle" >14</text>
<text x="126.31" y="547.40" font-size="7.9" font-weight="bold" text-anchor="middle" >Day</text>
<text x="30.10" y="486.61" font-size="7.55" font-weight="bold" text-anchor="middle" transform="rotate(-90 30.10 486.61)" >No. of infusions</text>
<line x1="131.52" y1="460.60" x2="131.52" y2="526.10" stroke="#000" stroke-width="1.5" stroke-dasharray="2.6 1.9"/>
<line x1="54.82" y1="441.80" x2="125.41" y2="441.80" stroke="#000" stroke-width="1.6" />
<line x1="54.82" y1="438.60" x2="54.82" y2="445.00" stroke="#000" stroke-width="1.3" />
<line x1="125.41" y1="438.60" x2="125.41" y2="445.00" stroke="#000" stroke-width="1.3" />
<line x1="134.01" y1="441.80" x2="204.27" y2="441.80" stroke="#000" stroke-width="1.6" />
<line x1="134.01" y1="438.60" x2="134.01" y2="445.00" stroke="#000" stroke-width="1.3" />
<line x1="204.27" y1="438.60" x2="204.27" y2="445.00" stroke="#000" stroke-width="1.3" />
<text x="91.77" y="435.30" font-size="7.5" font-weight="bold" text-anchor="middle" >FR1 125 µg/kg</text>
<text x="168.98" y="435.30" font-size="7.5" font-weight="bold" text-anchor="middle" >FR1 62.5 µg/kg</text>
<line x1="59.83" y1="496.33" x2="59.83" y2="491.20" stroke="#000" stroke-width="0.8" />
<line x1="70.86" y1="500.95" x2="70.86" y2="497.87" stroke="#000" stroke-width="0.8" />
<line x1="81.89" y1="501.47" x2="81.89" y2="497.10" stroke="#000" stroke-width="0.8" />
<line x1="92.92" y1="500.95" x2="92.92" y2="497.87" stroke="#000" stroke-width="0.8" />
<line x1="103.95" y1="498.39" x2="103.95" y2="493.77" stroke="#000" stroke-width="0.8" />
<line x1="114.98" y1="490.56" x2="114.98" y2="485.94" stroke="#000" stroke-width="0.8" />
<line x1="126.01" y1="492.36" x2="126.01" y2="489.02" stroke="#000" stroke-width="0.8" />
<line x1="137.04" y1="481.96" x2="137.04" y2="476.06" stroke="#000" stroke-width="0.8" />
<line x1="148.07" y1="487.23" x2="148.07" y2="484.15" stroke="#000" stroke-width="0.8" />
<line x1="159.10" y1="480.17" x2="159.10" y2="475.81" stroke="#000" stroke-width="0.8" />
<line x1="170.13" y1="489.28" x2="170.13" y2="486.20" stroke="#000" stroke-width="0.8" />
<line x1="181.16" y1="485.04" x2="181.16" y2="479.40" stroke="#000" stroke-width="0.8" />
<line x1="192.19" y1="489.28" x2="192.19" y2="486.71" stroke="#000" stroke-width="0.8" />
<line x1="203.22" y1="491.97" x2="203.22" y2="489.41" stroke="#000" stroke-width="0.8" />
<polyline points="59.83,496.33 70.86,500.95 81.89,501.47 92.92,500.95 103.95,498.39 114.98,490.56 126.01,492.36 137.04,481.96 148.07,487.23 159.10,480.17 170.13,489.28 181.16,485.04 192.19,489.28 203.22,491.97" fill="none" stroke="#000" stroke-width="0.9" />
<circle cx="59.83" cy="496.33" r="3.45"/>
<circle cx="70.86" cy="500.95" r="3.45"/>
<circle cx="81.89" cy="501.47" r="3.45"/>
<circle cx="92.92" cy="500.95" r="3.45"/>
<circle cx="103.95" cy="498.39" r="3.45"/>
<circle cx="114.98" cy="490.56" r="3.45"/>
<circle cx="126.01" cy="492.36" r="3.45"/>
<circle cx="137.04" cy="481.96" r="3.45"/>
<circle cx="148.07" cy="487.23" r="3.45"/>
<circle cx="159.10" cy="480.17" r="3.45"/>
<circle cx="170.13" cy="489.28" r="3.45"/>
<circle cx="181.16" cy="485.04" r="3.45"/>
<circle cx="192.19" cy="489.28" r="3.45"/>
<circle cx="203.22" cy="491.97" r="3.45"/>
<line x1="59.83" y1="510.06" x2="59.83" y2="508.52" stroke="#000" stroke-width="0.8" />
<line x1="70.86" y1="513.65" x2="70.86" y2="512.37" stroke="#000" stroke-width="0.8" />
<line x1="81.89" y1="513.14" x2="81.89" y2="511.86" stroke="#000" stroke-width="0.8" />
<line x1="92.92" y1="512.63" x2="92.92" y2="511.35" stroke="#000" stroke-width="0.8" />
<line x1="103.95" y1="507.50" x2="103.95" y2="505.44" stroke="#000" stroke-width="0.8" />
<line x1="114.98" y1="506.21" x2="114.98" y2="504.16" stroke="#000" stroke-width="0.8" />
<line x1="126.01" y1="510.58" x2="126.01" y2="509.04" stroke="#000" stroke-width="0.8" />
<line x1="137.04" y1="516.35" x2="137.04" y2="515.07" stroke="#000" stroke-width="0.8" />
<line x1="148.07" y1="515.32" x2="148.07" y2="514.04" stroke="#000" stroke-width="0.8" />
<line x1="159.10" y1="517.12" x2="159.10" y2="515.84" stroke="#000" stroke-width="0.8" />
<line x1="170.13" y1="515.32" x2="170.13" y2="514.04" stroke="#000" stroke-width="0.8" />
<line x1="181.16" y1="516.35" x2="181.16" y2="515.07" stroke="#000" stroke-width="0.8" />
<line x1="192.19" y1="516.61" x2="192.19" y2="515.32" stroke="#000" stroke-width="0.8" />
<line x1="203.22" y1="512.63" x2="203.22" y2="511.09" stroke="#000" stroke-width="0.8" />
<polyline points="59.83,510.06 70.86,513.65 81.89,513.14 92.92,512.63 103.95,507.50 114.98,506.21 126.01,510.58 137.04,516.35 148.07,515.32 159.10,517.12 170.13,515.32 181.16,516.35 192.19,516.61 203.22,512.63" fill="none" stroke="#000" stroke-width="0.9" />
<circle cx="59.83" cy="510.06" r="2.9" fill="#fff" stroke="#000" stroke-width="1.15"/>
<circle cx="70.86" cy="513.65" r="2.9" fill="#fff" stroke="#000" stroke-width="1.15"/>
<circle cx="81.89" cy="513.14" r="2.9" fill="#fff" stroke="#000" stroke-width="1.15"/>
<circle cx="92.92" cy="512.63" r="2.9" fill="#fff" stroke="#000" stroke-width="1.15"/>
<circle cx="103.95" cy="507.50" r="2.9" fill="#fff" stroke="#000" stroke-width="1.15"/>
<circle cx="114.98" cy="506.21" r="2.9" fill="#fff" stroke="#000" stroke-width="1.15"/>
<circle cx="126.01" cy="510.58" r="2.9" fill="#fff" stroke="#000" stroke-width="1.15"/>
<circle cx="137.04" cy="516.35" r="2.9" fill="#fff" stroke="#000" stroke-width="1.15"/>
<circle cx="148.07" cy="515.32" r="2.9" fill="#fff" stroke="#000" stroke-width="1.15"/>
<circle cx="159.10" cy="517.12" r="2.9" fill="#fff" stroke="#000" stroke-width="1.15"/>
<circle cx="170.13" cy="515.32" r="2.9" fill="#fff" stroke="#000" stroke-width="1.15"/>
<circle cx="181.16" cy="516.35" r="2.9" fill="#fff" stroke="#000" stroke-width="1.15"/>
<circle cx="192.19" cy="516.61" r="2.9" fill="#fff" stroke="#000" stroke-width="1.15"/>
<circle cx="203.22" cy="512.63" r="2.9" fill="#fff" stroke="#000" stroke-width="1.15"/>
<circle cx="66.10" cy="455.40" r="2.9" fill="#fff" stroke="#000" stroke-width="1.15"/>
<circle cx="66.10" cy="465.80" r="3.3"/>
<text x="74.80" y="458.00" font-size="7.6" font-weight="bold" >SSA (n =5)</text>
<text x="74.80" y="468.40" font-size="7.6" font-weight="bold" >MSA (n = 6)</text>
<polyline points="209.40,492.40 211.60,492.40 211.60,511.80 209.40,511.80" fill="none" stroke="#000" stroke-width="0.8" />
<text x="200.00" y="509.40" font-size="10.8" text-anchor="middle" >****</text>
<line x1="266.30" y1="448.58" x2="266.30" y2="526.50" stroke="#000" stroke-width="1.05" />
<line x1="265.80" y1="526.00" x2="421.62" y2="526.00" stroke="#000" stroke-width="1.1" />
<line x1="263.90" y1="526.00" x2="266.30" y2="526.00" stroke="#000" stroke-width="0.9" />
<text x="262.90" y="528.71" font-size="7.6" font-weight="bold" text-anchor="end" >0</text>
<line x1="263.90" y1="513.18" x2="266.30" y2="513.18" stroke="#000" stroke-width="0.9" />
<text x="262.90" y="515.89" font-size="7.6" font-weight="bold" text-anchor="end" >10</text>
<line x1="263.90" y1="500.36" x2="266.30" y2="500.36" stroke="#000" stroke-width="0.9" />
<text x="262.90" y="503.07" font-size="7.6" font-weight="bold" text-anchor="end" >20</text>
<line x1="263.90" y1="487.54" x2="266.30" y2="487.54" stroke="#000" stroke-width="0.9" />
<text x="262.90" y="490.25" font-size="7.6" font-weight="bold" text-anchor="end" >30</text>
<line x1="263.90" y1="474.72" x2="266.30" y2="474.72" stroke="#000" stroke-width="0.9" />
<text x="262.90" y="477.43" font-size="7.6" font-weight="bold" text-anchor="end" >40</text>
<line x1="263.90" y1="461.90" x2="266.30" y2="461.90" stroke="#000" stroke-width="0.9" />
<text x="262.90" y="464.61" font-size="7.6" font-weight="bold" text-anchor="end" >50</text>
<line x1="263.90" y1="449.08" x2="266.30" y2="449.08" stroke="#000" stroke-width="0.9" />
<text x="262.90" y="451.79" font-size="7.6" font-weight="bold" text-anchor="end" >60</text>
<text x="266.00" y="537.00" font-size="7.6" font-weight="bold" text-anchor="middle" >0</text>
<line x1="277.08" y1="526.00" x2="277.08" y2="528.40" stroke="#000" stroke-width="0.9" />
<text x="277.08" y="537.00" font-size="7.6" font-weight="bold" text-anchor="middle" >1</text>
<line x1="288.16" y1="526.00" x2="288.16" y2="528.40" stroke="#000" stroke-width="0.9" />
<text x="288.16" y="537.00" font-size="7.6" font-weight="bold" text-anchor="middle" >2</text>
<line x1="299.24" y1="526.00" x2="299.24" y2="528.40" stroke="#000" stroke-width="0.9" />
<text x="299.24" y="537.00" font-size="7.6" font-weight="bold" text-anchor="middle" >3</text>
<line x1="310.32" y1="526.00" x2="310.32" y2="528.40" stroke="#000" stroke-width="0.9" />
<text x="310.32" y="537.00" font-size="7.6" font-weight="bold" text-anchor="middle" >4</text>
<line x1="321.40" y1="526.00" x2="321.40" y2="528.40" stroke="#000" stroke-width="0.9" />
<text x="321.40" y="537.00" font-size="7.6" font-weight="bold" text-anchor="middle" >5</text>
<line x1="332.48" y1="526.00" x2="332.48" y2="528.40" stroke="#000" stroke-width="0.9" />
<text x="332.48" y="537.00" font-size="7.6" font-weight="bold" text-anchor="middle" >6</text>
<line x1="343.56" y1="526.00" x2="343.56" y2="528.40" stroke="#000" stroke-width="0.9" />
<text x="343.56" y="537.00" font-size="7.6" font-weight="bold" text-anchor="middle" >7</text>
<line x1="354.64" y1="526.00" x2="354.64" y2="528.40" stroke="#000" stroke-width="0.9" />
<text x="354.64" y="537.00" font-size="7.6" font-weight="bold" text-anchor="middle" >8</text>
<line x1="365.72" y1="526.00" x2="365.72" y2="528.40" stroke="#000" stroke-width="0.9" />
<text x="365.72" y="537.00" font-size="7.6" font-weight="bold" text-anchor="middle" >9</text>
<line x1="376.80" y1="526.00" x2="376.80" y2="528.40" stroke="#000" stroke-width="0.9" />
<text x="376.80" y="537.00" font-size="7.6" font-weight="bold" text-anchor="middle" >10</text>
<line x1="387.88" y1="526.00" x2="387.88" y2="528.40" stroke="#000" stroke-width="0.9" />
<text x="387.88" y="537.00" font-size="7.6" font-weight="bold" text-anchor="middle" >11</text>
<line x1="398.96" y1="526.00" x2="398.96" y2="528.40" stroke="#000" stroke-width="0.9" />
<text x="398.96" y="537.00" font-size="7.6" font-weight="bold" text-anchor="middle" >12</text>
<line x1="410.04" y1="526.00" x2="410.04" y2="528.40" stroke="#000" stroke-width="0.9" />
<text x="410.04" y="537.00" font-size="7.6" font-weight="bold" text-anchor="middle" >13</text>
<line x1="421.12" y1="526.00" x2="421.12" y2="528.40" stroke="#000" stroke-width="0.9" />
<text x="421.12" y="537.00" font-size="7.6" font-weight="bold" text-anchor="middle" >14</text>
<text x="343.86" y="547.40" font-size="7.9" font-weight="bold" text-anchor="middle" >Day</text>
<text x="247.40" y="486.94" font-size="7.55" font-weight="bold" text-anchor="middle" transform="rotate(-90 247.40 486.94)" >No. of inactive nosepokes</text>
<line x1="349.10" y1="460.60" x2="349.10" y2="526.00" stroke="#000" stroke-width="1.5" stroke-dasharray="2.6 1.9"/>
<line x1="272.05" y1="441.80" x2="342.96" y2="441.80" stroke="#000" stroke-width="1.6" />
<line x1="272.05" y1="438.60" x2="272.05" y2="445.00" stroke="#000" stroke-width="1.3" />
<line x1="342.96" y1="438.60" x2="342.96" y2="445.00" stroke="#000" stroke-width="1.3" />
<line x1="351.60" y1="441.80" x2="422.18" y2="441.80" stroke="#000" stroke-width="1.6" />
<line x1="351.60" y1="438.60" x2="351.60" y2="445.00" stroke="#000" stroke-width="1.3" />
<line x1="422.18" y1="438.60" x2="422.18" y2="445.00" stroke="#000" stroke-width="1.3" />
<text x="309.17" y="435.30" font-size="7.5" font-weight="bold" text-anchor="middle" >FR1 125 µg/kg</text>
<text x="386.73" y="435.30" font-size="7.5" font-weight="bold" text-anchor="middle" >FR1 62.5 µg/kg</text>
<line x1="288.16" y1="515.23" x2="288.16" y2="512.67" stroke="#000" stroke-width="0.8" />
<line x1="299.24" y1="520.87" x2="299.24" y2="518.95" stroke="#000" stroke-width="0.8" />
<line x1="310.32" y1="517.54" x2="310.32" y2="515.62" stroke="#000" stroke-width="0.8" />
<line x1="321.40" y1="514.33" x2="321.40" y2="511.26" stroke="#000" stroke-width="0.8" />
<line x1="332.48" y1="515.74" x2="332.48" y2="513.82" stroke="#000" stroke-width="0.8" />
<line x1="343.56" y1="518.31" x2="343.56" y2="516.38" stroke="#000" stroke-width="0.8" />
<line x1="354.64" y1="494.98" x2="354.64" y2="479.34" stroke="#000" stroke-width="0.8" />
<line x1="365.72" y1="515.23" x2="365.72" y2="513.31" stroke="#000" stroke-width="0.8" />
<line x1="376.80" y1="510.49" x2="376.80" y2="507.28" stroke="#000" stroke-width="0.8" />
<line x1="387.88" y1="515.23" x2="387.88" y2="512.67" stroke="#000" stroke-width="0.8" />
<line x1="398.96" y1="514.33" x2="398.96" y2="511.77" stroke="#000" stroke-width="0.8" />
<line x1="410.04" y1="520.87" x2="410.04" y2="518.95" stroke="#000" stroke-width="0.8" />
<line x1="421.12" y1="517.54" x2="421.12" y2="515.62" stroke="#000" stroke-width="0.8" />
<polyline points="277.08,500.87 288.16,515.23 299.24,520.87 310.32,517.54 321.40,514.33 332.48,515.74 343.56,518.31 354.64,494.98 365.72,515.23 376.80,510.49 387.88,515.23 398.96,514.33 410.04,520.87 421.12,517.54" fill="none" stroke="#000" stroke-width="0.9" />
<circle cx="277.08" cy="500.87" r="3.45"/>
<circle cx="288.16" cy="515.23" r="3.45"/>
<circle cx="299.24" cy="520.87" r="3.45"/>
<circle cx="310.32" cy="517.54" r="3.45"/>
<circle cx="321.40" cy="514.33" r="3.45"/>
<circle cx="332.48" cy="515.74" r="3.45"/>
<circle cx="343.56" cy="518.31" r="3.45"/>
<circle cx="354.64" cy="494.98" r="3.45"/>
<circle cx="365.72" cy="515.23" r="3.45"/>
<circle cx="376.80" cy="510.49" r="3.45"/>
<circle cx="387.88" cy="515.23" r="3.45"/>
<circle cx="398.96" cy="514.33" r="3.45"/>
<circle cx="410.04" cy="520.87" r="3.45"/>
<circle cx="421.12" cy="517.54" r="3.45"/>
<line x1="277.08" y1="499.33" x2="277.08" y2="492.41" stroke="#000" stroke-width="0.8" />
<line x1="288.16" y1="500.10" x2="288.16" y2="494.72" stroke="#000" stroke-width="0.8" />
<line x1="299.24" y1="511.00" x2="299.24" y2="507.67" stroke="#000" stroke-width="0.8" />
<line x1="310.32" y1="509.72" x2="310.32" y2="505.36" stroke="#000" stroke-width="0.8" />
<line x1="321.40" y1="509.21" x2="321.40" y2="502.54" stroke="#000" stroke-width="0.8" />
<line x1="332.48" y1="512.54" x2="332.48" y2="508.18" stroke="#000" stroke-width="0.8" />
<line x1="343.56" y1="518.31" x2="343.56" y2="516.38" stroke="#000" stroke-width="0.8" />
<line x1="354.64" y1="515.74" x2="354.64" y2="513.82" stroke="#000" stroke-width="0.8" />
<line x1="365.72" y1="513.82" x2="365.72" y2="510.49" stroke="#000" stroke-width="0.8" />
<line x1="376.80" y1="520.87" x2="376.80" y2="518.95" stroke="#000" stroke-width="0.8" />
<line x1="387.88" y1="519.08" x2="387.88" y2="515.74" stroke="#000" stroke-width="0.8" />
<line x1="398.96" y1="522.15" x2="398.96" y2="520.23" stroke="#000" stroke-width="0.8" />
<line x1="410.04" y1="518.82" x2="410.04" y2="516.26" stroke="#000" stroke-width="0.8" />
<line x1="421.12" y1="511.77" x2="421.12" y2="507.92" stroke="#000" stroke-width="0.8" />
<polyline points="277.08,499.33 288.16,500.10 299.24,511.00 310.32,509.72 321.40,509.21 332.48,512.54 343.56,518.31 354.64,515.74 365.72,513.82 376.80,520.87 387.88,519.08 398.96,522.15 410.04,518.82 421.12,511.77" fill="none" stroke="#000" stroke-width="0.9" />
<circle cx="277.08" cy="499.33" r="2.9" fill="#fff" stroke="#000" stroke-width="1.15"/>
<circle cx="288.16" cy="500.10" r="2.9" fill="#fff" stroke="#000" stroke-width="1.15"/>
<circle cx="299.24" cy="511.00" r="2.9" fill="#fff" stroke="#000" stroke-width="1.15"/>
<circle cx="310.32" cy="509.72" r="2.9" fill="#fff" stroke="#000" stroke-width="1.15"/>
<circle cx="321.40" cy="509.21" r="2.9" fill="#fff" stroke="#000" stroke-width="1.15"/>
<circle cx="332.48" cy="512.54" r="2.9" fill="#fff" stroke="#000" stroke-width="1.15"/>
<circle cx="343.56" cy="518.31" r="2.9" fill="#fff" stroke="#000" stroke-width="1.15"/>
<circle cx="354.64" cy="515.74" r="2.9" fill="#fff" stroke="#000" stroke-width="1.15"/>
<circle cx="365.72" cy="513.82" r="2.9" fill="#fff" stroke="#000" stroke-width="1.15"/>
<circle cx="376.80" cy="520.87" r="2.9" fill="#fff" stroke="#000" stroke-width="1.15"/>
<circle cx="387.88" cy="519.08" r="2.9" fill="#fff" stroke="#000" stroke-width="1.15"/>
<circle cx="398.96" cy="522.15" r="2.9" fill="#fff" stroke="#000" stroke-width="1.15"/>
<circle cx="410.04" cy="518.82" r="2.9" fill="#fff" stroke="#000" stroke-width="1.15"/>
<circle cx="421.12" cy="511.77" r="2.9" fill="#fff" stroke="#000" stroke-width="1.15"/>
<line x1="252.60" y1="250.40" x2="252.60" y2="317.80" stroke="#000" stroke-width="1.0" />
<line x1="252.10" y1="317.30" x2="353.40" y2="317.30" stroke="#000" stroke-width="1.0" />
<line x1="250.20" y1="317.30" x2="252.60" y2="317.30" stroke="#000" stroke-width="0.9" />
<text x="249.50" y="319.60" font-size="6.5" font-weight="bold" text-anchor="end" >0</text>
<line x1="250.20" y1="300.70" x2="252.60" y2="300.70" stroke="#000" stroke-width="0.9" />
<text x="249.50" y="303.00" font-size="6.5" font-weight="bold" text-anchor="end" >500</text>
<line x1="250.20" y1="284.10" x2="252.60" y2="284.10" stroke="#000" stroke-width="0.9" />
<text x="249.50" y="286.40" font-size="6.5" font-weight="bold" text-anchor="end" >1000</text>
<line x1="250.20" y1="267.50" x2="252.60" y2="267.50" stroke="#000" stroke-width="0.9" />
<text x="249.50" y="269.80" font-size="6.5" font-weight="bold" text-anchor="end" >1500</text>
<line x1="250.20" y1="250.90" x2="252.60" y2="250.90" stroke="#000" stroke-width="0.9" />
<text x="249.50" y="253.20" font-size="6.5" font-weight="bold" text-anchor="end" >2000</text>
<line x1="277.70" y1="264.18" x2="277.70" y2="256.38" stroke="#000" stroke-width="1.0" />
<line x1="269.50" y1="256.38" x2="285.90" y2="256.38" stroke="#000" stroke-width="1.1" />
<rect x="261.45" y="264.73" width="32.50" height="52.57" fill="#fff" stroke="#000" stroke-width="1.1"/>
<text x="277.70" y="293.60" font-size="6.4" font-weight="bold" text-anchor="middle" >7</text>
<text x="277.70" y="326.30" font-size="6.5" font-weight="bold" text-anchor="middle" >SSA</text>
<line x1="328.05" y1="260.30" x2="328.05" y2="253.49" stroke="#000" stroke-width="1.0" />
<line x1="319.85" y1="253.49" x2="336.25" y2="253.49" stroke="#000" stroke-width="1.1" />
<rect x="310.90" y="260.30" width="34.30" height="57.00" fill="#000"/>
<text x="328.05" y="293.60" font-size="6.4" font-weight="bold" text-anchor="middle" fill="#fff" >8</text>
<text x="328.05" y="326.30" font-size="6.5" font-weight="bold" text-anchor="middle" >MSA</text>
<text x="231.00" y="283.40" font-size="6.3" font-weight="bold" text-anchor="middle" transform="rotate(-90 231.00 283.40)">No. of BrdU<tspan font-size="4.5" dy="-2.6">+</tspan><tspan dy="2.6"> cells</tspan></text>
<line x1="400.10" y1="249.90" x2="400.10" y2="317.80" stroke="#000" stroke-width="1.0" />
<line x1="399.60" y1="317.30" x2="502.00" y2="317.30" stroke="#000" stroke-width="1.0" />
<line x1="397.70" y1="317.30" x2="400.10" y2="317.30" stroke="#000" stroke-width="0.9" />
<text x="397.00" y="319.60" font-size="6.5" font-weight="bold" text-anchor="end" >0</text>
<line x1="397.70" y1="295.00" x2="400.10" y2="295.00" stroke="#000" stroke-width="0.9" />
<text x="397.00" y="297.30" font-size="6.5" font-weight="bold" text-anchor="end" >200</text>
<line x1="397.70" y1="272.70" x2="400.10" y2="272.70" stroke="#000" stroke-width="0.9" />
<text x="397.00" y="275.00" font-size="6.5" font-weight="bold" text-anchor="end" >400</text>
<line x1="397.70" y1="250.40" x2="400.10" y2="250.40" stroke="#000" stroke-width="0.9" />
<text x="397.00" y="252.70" font-size="6.5" font-weight="bold" text-anchor="end" >600</text>
<line x1="426.40" y1="283.40" x2="426.40" y2="276.49" stroke="#000" stroke-width="1.0" />
<line x1="418.20" y1="276.49" x2="434.60" y2="276.49" stroke="#000" stroke-width="1.1" />
<rect x="410.15" y="283.95" width="32.50" height="33.35" fill="#fff" stroke="#000" stroke-width="1.1"/>
<text x="426.40" y="303.80" font-size="6.4" font-weight="bold" text-anchor="middle" >7</text>
<text x="426.40" y="326.30" font-size="6.5" font-weight="bold" text-anchor="middle" >SSA</text>
<line x1="476.25" y1="260.10" x2="476.25" y2="253.75" stroke="#000" stroke-width="1.0" />
<line x1="468.05" y1="253.75" x2="484.45" y2="253.75" stroke="#000" stroke-width="1.1" />
<rect x="459.30" y="260.10" width="33.90" height="57.20" fill="#000"/>
<text x="476.25" y="303.80" font-size="6.4" font-weight="bold" text-anchor="middle" fill="#fff" >8</text>
<text x="476.25" y="326.30" font-size="6.5" font-weight="bold" text-anchor="middle" >MSA</text>
<text x="379.40" y="283.00" font-size="6.22" font-weight="bold" text-anchor="middle" transform="rotate(-90 379.40 283.00)">No. of NeuN<tspan font-size="4.5" dy="-2.6">+</tspan><tspan dy="2.6">/BrdU</tspan><tspan font-size="4.5" dy="-2.6">+</tspan><tspan dy="2.6"> cells</tspan></text>
<text x="476.50" y="252.60" font-size="8" font-weight="bold" text-anchor="middle" >*</text>
<line x1="341.50" y1="579.60" x2="341.50" y2="657.10" stroke="#000" stroke-width="1.0" />
<line x1="341.00" y1="656.60" x2="458.04" y2="656.60" stroke="#000" stroke-width="1.0" />
<line x1="339.10" y1="656.60" x2="341.50" y2="656.60" stroke="#000" stroke-width="0.9" />
<text x="337.90" y="659.20" font-size="7.3" font-weight="bold" text-anchor="end" >0</text>
<line x1="339.10" y1="631.10" x2="341.50" y2="631.10" stroke="#000" stroke-width="0.9" />
<text x="337.90" y="633.70" font-size="7.3" font-weight="bold" text-anchor="end" >1</text>
<line x1="339.10" y1="605.60" x2="341.50" y2="605.60" stroke="#000" stroke-width="0.9" />
<text x="337.90" y="608.20" font-size="7.3" font-weight="bold" text-anchor="end" >2</text>
<line x1="339.10" y1="580.10" x2="341.50" y2="580.10" stroke="#000" stroke-width="0.9" />
<text x="337.90" y="582.70" font-size="7.3" font-weight="bold" text-anchor="end" >3</text>
<line x1="341.50" y1="656.60" x2="341.50" y2="659.00" stroke="#000" stroke-width="0.9" />
<text x="341.50" y="667.20" font-size="7.3" font-weight="bold" text-anchor="middle" >0</text>
<line x1="360.84" y1="656.60" x2="360.84" y2="659.00" stroke="#000" stroke-width="0.9" />
<text x="360.84" y="667.20" font-size="7.3" font-weight="bold" text-anchor="middle" >50</text>
<line x1="380.18" y1="656.60" x2="380.18" y2="659.00" stroke="#000" stroke-width="0.9" />
<text x="380.18" y="667.20" font-size="7.3" font-weight="bold" text-anchor="middle" >100</text>
<line x1="399.52" y1="656.60" x2="399.52" y2="659.00" stroke="#000" stroke-width="0.9" />
<text x="399.52" y="667.20" font-size="7.3" font-weight="bold" text-anchor="middle" >150</text>
<line x1="418.86" y1="656.60" x2="418.86" y2="659.00" stroke="#000" stroke-width="0.9" />
<text x="418.86" y="667.20" font-size="7.3" font-weight="bold" text-anchor="middle" >200</text>
<line x1="438.20" y1="656.60" x2="438.20" y2="659.00" stroke="#000" stroke-width="0.9" />
<text x="438.20" y="667.20" font-size="7.3" font-weight="bold" text-anchor="middle" >250</text>
<line x1="457.54" y1="656.60" x2="457.54" y2="659.00" stroke="#000" stroke-width="0.9" />
<text x="457.54" y="667.20" font-size="7.3" font-weight="bold" text-anchor="middle" >300</text>
<text x="399.20" y="679.20" font-size="7.35" font-weight="bold" text-anchor="middle" >Distance from the soma (µm)</text>
<text x="328.40" y="617.80" font-size="7.4" font-weight="bold" text-anchor="middle" transform="rotate(-90 328.40 617.80)" >No. of crossings</text>
<line x1="345.37" y1="623.45" x2="345.37" y2="621.41" stroke="#000" stroke-width="1.1" />
<line x1="349.24" y1="620.13" x2="349.24" y2="618.10" stroke="#000" stroke-width="1.1" />
<line x1="353.10" y1="615.29" x2="353.10" y2="612.74" stroke="#000" stroke-width="1.1" />
<line x1="356.97" y1="606.11" x2="356.97" y2="603.56" stroke="#000" stroke-width="1.1" />
<line x1="360.84" y1="593.62" x2="360.84" y2="590.04" stroke="#000" stroke-width="1.1" />
<line x1="364.71" y1="590.30" x2="364.71" y2="584.69" stroke="#000" stroke-width="1.1" />
<line x1="368.58" y1="596.68" x2="368.58" y2="592.09" stroke="#000" stroke-width="1.1" />
<line x1="372.44" y1="593.62" x2="372.44" y2="589.02" stroke="#000" stroke-width="1.1" />
<line x1="376.31" y1="598.21" x2="376.31" y2="593.11" stroke="#000" stroke-width="1.1" />
<line x1="380.18" y1="596.68" x2="380.18" y2="590.56" stroke="#000" stroke-width="1.1" />
<line x1="384.05" y1="600.25" x2="384.05" y2="593.11" stroke="#000" stroke-width="1.1" />
<line x1="387.92" y1="604.07" x2="387.92" y2="596.93" stroke="#000" stroke-width="1.1" />
<line x1="391.78" y1="607.13" x2="391.78" y2="599.48" stroke="#000" stroke-width="1.1" />
<line x1="395.65" y1="609.43" x2="395.65" y2="601.27" stroke="#000" stroke-width="1.1" />
<line x1="399.52" y1="611.47" x2="399.52" y2="602.80" stroke="#000" stroke-width="1.1" />
<line x1="403.39" y1="613.25" x2="403.39" y2="604.07" stroke="#000" stroke-width="1.1" />
<line x1="407.26" y1="615.80" x2="407.26" y2="606.62" stroke="#000" stroke-width="1.1" />
<line x1="411.12" y1="620.13" x2="411.12" y2="611.47" stroke="#000" stroke-width="1.1" />
<line x1="414.99" y1="622.94" x2="414.99" y2="614.27" stroke="#000" stroke-width="1.1" />
<line x1="418.86" y1="626.00" x2="418.86" y2="618.35" stroke="#000" stroke-width="1.1" />
<line x1="422.73" y1="630.08" x2="422.73" y2="622.94" stroke="#000" stroke-width="1.1" />
<line x1="426.60" y1="633.39" x2="426.60" y2="627.27" stroke="#000" stroke-width="1.1" />
<line x1="430.46" y1="637.73" x2="430.46" y2="633.14" stroke="#000" stroke-width="1.1" />
<line x1="434.33" y1="642.32" x2="434.33" y2="638.75" stroke="#000" stroke-width="1.1" />
<line x1="438.20" y1="644.11" x2="438.20" y2="641.05" stroke="#000" stroke-width="1.1" />
<line x1="442.07" y1="648.19" x2="442.07" y2="646.15" stroke="#000" stroke-width="1.1" />
<line x1="445.94" y1="651.25" x2="445.94" y2="649.72" stroke="#000" stroke-width="1.1" />
<line x1="449.80" y1="652.77" x2="449.80" y2="651.75" stroke="#000" stroke-width="1.1" />
<line x1="453.67" y1="653.80" x2="453.67" y2="653.03" stroke="#000" stroke-width="1.1" />
<line x1="457.54" y1="654.82" x2="457.54" y2="654.31" stroke="#000" stroke-width="1.1" />
<line x1="345.37" y1="630.59" x2="345.37" y2="631.36" stroke="#000" stroke-width="0.8" />
<line x1="349.24" y1="630.59" x2="349.24" y2="631.36" stroke="#000" stroke-width="0.8" />
<line x1="353.10" y1="628.55" x2="353.10" y2="629.83" stroke="#000" stroke-width="0.8" />
<line x1="356.97" y1="622.18" x2="356.97" y2="623.96" stroke="#000" stroke-width="0.8" />
<line x1="360.84" y1="615.80" x2="360.84" y2="617.84" stroke="#000" stroke-width="0.8" />
<line x1="364.71" y1="612.49" x2="364.71" y2="614.52" stroke="#000" stroke-width="0.8" />
<line x1="368.58" y1="607.89" x2="368.58" y2="609.93" stroke="#000" stroke-width="0.8" />
<line x1="372.44" y1="606.11" x2="372.44" y2="608.15" stroke="#000" stroke-width="0.8" />
<line x1="376.31" y1="606.62" x2="376.31" y2="609.17" stroke="#000" stroke-width="0.8" />
<line x1="380.18" y1="605.35" x2="380.18" y2="607.89" stroke="#000" stroke-width="0.8" />
<line x1="384.05" y1="604.84" x2="384.05" y2="607.38" stroke="#000" stroke-width="0.8" />
<line x1="387.92" y1="606.11" x2="387.92" y2="609.17" stroke="#000" stroke-width="0.8" />
<line x1="391.78" y1="605.86" x2="391.78" y2="608.91" stroke="#000" stroke-width="0.8" />
<line x1="395.65" y1="609.68" x2="395.65" y2="612.74" stroke="#000" stroke-width="0.8" />
<line x1="399.52" y1="611.72" x2="399.52" y2="614.78" stroke="#000" stroke-width="0.8" />
<line x1="403.39" y1="613.50" x2="403.39" y2="617.08" stroke="#000" stroke-width="0.8" />
<line x1="407.26" y1="617.59" x2="407.26" y2="621.16" stroke="#000" stroke-width="0.8" />
<line x1="411.12" y1="622.94" x2="411.12" y2="627.02" stroke="#000" stroke-width="0.8" />
<line x1="414.99" y1="624.73" x2="414.99" y2="628.81" stroke="#000" stroke-width="0.8" />
<line x1="418.86" y1="627.27" x2="418.86" y2="631.36" stroke="#000" stroke-width="0.8" />
<line x1="422.73" y1="630.59" x2="422.73" y2="634.16" stroke="#000" stroke-width="0.8" />
<line x1="426.60" y1="633.90" x2="426.60" y2="636.96" stroke="#000" stroke-width="0.8" />
<line x1="430.46" y1="635.95" x2="430.46" y2="638.50" stroke="#000" stroke-width="0.8" />
<line x1="434.33" y1="637.73" x2="434.33" y2="640.28" stroke="#000" stroke-width="0.8" />
<line x1="438.20" y1="640.79" x2="438.20" y2="642.83" stroke="#000" stroke-width="0.8" />
<line x1="442.07" y1="646.91" x2="442.07" y2="648.44" stroke="#000" stroke-width="0.8" />
<line x1="445.94" y1="649.46" x2="445.94" y2="650.74" stroke="#000" stroke-width="0.8" />
<line x1="449.80" y1="652.01" x2="449.80" y2="653.03" stroke="#000" stroke-width="0.8" />
<line x1="453.67" y1="653.28" x2="453.67" y2="654.05" stroke="#000" stroke-width="0.8" />
<line x1="457.54" y1="654.56" x2="457.54" y2="655.07" stroke="#000" stroke-width="0.8" />
<polyline points="345.37,623.45 349.24,620.13 353.10,615.29 356.97,606.11 360.84,593.62 364.71,590.30 368.58,596.68 372.44,593.62 376.31,598.21 380.18,596.68 384.05,600.25 387.92,604.07 391.78,607.13 395.65,609.43 399.52,611.47 403.39,613.25 407.26,615.80 411.12,620.13 414.99,622.94 418.86,626.00 422.73,630.08 426.60,633.39 430.46,637.73 434.33,642.32 438.20,644.11 442.07,648.19 445.94,651.25 449.80,652.77 453.67,653.80 457.54,654.82" fill="none" stroke="#000" stroke-width="0.9" />
<circle cx="345.37" cy="623.45" r="1.45"/>
<circle cx="349.24" cy="620.13" r="1.45"/>
<circle cx="353.10" cy="615.29" r="1.45"/>
<circle cx="356.97" cy="606.11" r="1.45"/>
<circle cx="360.84" cy="593.62" r="1.45"/>
<circle cx="364.71" cy="590.30" r="1.45"/>
<circle cx="368.58" cy="596.68" r="1.45"/>
<circle cx="372.44" cy="593.62" r="1.45"/>
<circle cx="376.31" cy="598.21" r="1.45"/>
<circle cx="380.18" cy="596.68" r="1.45"/>
<circle cx="384.05" cy="600.25" r="1.45"/>
<circle cx="387.92" cy="604.07" r="1.45"/>
<circle cx="391.78" cy="607.13" r="1.45"/>
<circle cx="395.65" cy="609.43" r="1.45"/>
<circle cx="399.52" cy="611.47" r="1.45"/>
<circle cx="403.39" cy="613.25" r="1.45"/>
<circle cx="407.26" cy="615.80" r="1.45"/>
<circle cx="411.12" cy="620.13" r="1.45"/>
<circle cx="414.99" cy="622.94" r="1.45"/>
<circle cx="418.86" cy="626.00" r="1.45"/>
<circle cx="422.73" cy="630.08" r="1.45"/>
<circle cx="426.60" cy="633.39" r="1.45"/>
<circle cx="430.46" cy="637.73" r="1.45"/>
<circle cx="434.33" cy="642.32" r="1.45"/>
<circle cx="438.20" cy="644.11" r="1.45"/>
<circle cx="442.07" cy="648.19" r="1.45"/>
<circle cx="445.94" cy="651.25" r="1.45"/>
<circle cx="449.80" cy="652.77" r="1.45"/>
<circle cx="453.67" cy="653.80" r="1.45"/>
<circle cx="457.54" cy="654.82" r="1.45"/>
<polyline points="345.37,630.59 349.24,630.59 353.10,628.55 356.97,622.18 360.84,615.80 364.71,612.49 368.58,607.89 372.44,606.11 376.31,606.62 380.18,605.35 384.05,604.84 387.92,606.11 391.78,605.86 395.65,609.68 399.52,611.72 403.39,613.50 407.26,617.59 411.12,622.94 414.99,624.73 418.86,627.27 422.73,630.59 426.60,633.90 430.46,635.95 434.33,637.73 438.20,640.79 442.07,646.91 445.94,649.46 449.80,652.01 453.67,653.28 457.54,654.56" fill="none" stroke="#000" stroke-width="0.9" />
<circle cx="345.37" cy="630.59" r="1.65" fill="#fff" stroke="#000" stroke-width="0.95"/>
<circle cx="349.24" cy="630.59" r="1.65" fill="#fff" stroke="#000" stroke-width="0.95"/>
<circle cx="353.10" cy="628.55" r="1.65" fill="#fff" stroke="#000" stroke-width="0.95"/>
<circle cx="356.97" cy="622.18" r="1.65" fill="#fff" stroke="#000" stroke-width="0.95"/>
<circle cx="360.84" cy="615.80" r="1.65" fill="#fff" stroke="#000" stroke-width="0.95"/>
<circle cx="364.71" cy="612.49" r="1.65" fill="#fff" stroke="#000" stroke-width="0.95"/>
<circle cx="368.58" cy="607.89" r="1.65" fill="#fff" stroke="#000" stroke-width="0.95"/>
<circle cx="372.44" cy="606.11" r="1.65" fill="#fff" stroke="#000" stroke-width="0.95"/>
<circle cx="376.31" cy="606.62" r="1.65" fill="#fff" stroke="#000" stroke-width="0.95"/>
<circle cx="380.18" cy="605.35" r="1.65" fill="#fff" stroke="#000" stroke-width="0.95"/>
<circle cx="384.05" cy="604.84" r="1.65" fill="#fff" stroke="#000" stroke-width="0.95"/>
<circle cx="387.92" cy="606.11" r="1.65" fill="#fff" stroke="#000" stroke-width="0.95"/>
<circle cx="391.78" cy="605.86" r="1.65" fill="#fff" stroke="#000" stroke-width="0.95"/>
<circle cx="395.65" cy="609.68" r="1.65" fill="#fff" stroke="#000" stroke-width="0.95"/>
<circle cx="399.52" cy="611.72" r="1.65" fill="#fff" stroke="#000" stroke-width="0.95"/>
<circle cx="403.39" cy="613.50" r="1.65" fill="#fff" stroke="#000" stroke-width="0.95"/>
<circle cx="407.26" cy="617.59" r="1.65" fill="#fff" stroke="#000" stroke-width="0.95"/>
<circle cx="411.12" cy="622.94" r="1.65" fill="#fff" stroke="#000" stroke-width="0.95"/>
<circle cx="414.99" cy="624.73" r="1.65" fill="#fff" stroke="#000" stroke-width="0.95"/>
<circle cx="418.86" cy="627.27" r="1.65" fill="#fff" stroke="#000" stroke-width="0.95"/>
<circle cx="422.73" cy="630.59" r="1.65" fill="#fff" stroke="#000" stroke-width="0.95"/>
<circle cx="426.60" cy="633.90" r="1.65" fill="#fff" stroke="#000" stroke-width="0.95"/>
<circle cx="430.46" cy="635.95" r="1.65" fill="#fff" stroke="#000" stroke-width="0.95"/>
<circle cx="434.33" cy="637.73" r="1.65" fill="#fff" stroke="#000" stroke-width="0.95"/>
<circle cx="438.20" cy="640.79" r="1.65" fill="#fff" stroke="#000" stroke-width="0.95"/>
<circle cx="442.07" cy="646.91" r="1.65" fill="#fff" stroke="#000" stroke-width="0.95"/>
<circle cx="445.94" cy="649.46" r="1.65" fill="#fff" stroke="#000" stroke-width="0.95"/>
<circle cx="449.80" cy="652.01" r="1.65" fill="#fff" stroke="#000" stroke-width="0.95"/>
<circle cx="453.67" cy="653.28" r="1.65" fill="#fff" stroke="#000" stroke-width="0.95"/>
<circle cx="457.54" cy="654.56" r="1.65" fill="#fff" stroke="#000" stroke-width="0.95"/>
<text x="402.80" y="591.40" font-size="10" text-anchor="middle" >*</text>
<line x1="406.50" y1="580.60" x2="406.50" y2="590.80" stroke="#000" stroke-width="0.9" />
<line x1="408.20" y1="581.50" x2="416.40" y2="581.50" stroke="#000" stroke-width="0.9" />
<line x1="408.20" y1="590.60" x2="416.40" y2="590.60" stroke="#000" stroke-width="0.9" />
<circle cx="412.2" cy="581.5" r="1.65" fill="#fff" stroke="#000" stroke-width="0.95"/>
<circle cx="412.2" cy="590.6" r="1.45"/>
<text x="421.20" y="584.20" font-size="7.2" >SSA (n =5)</text>
<text x="421.20" y="593.30" font-size="7.1" >MSA (n = 6)</text>
<g clip-path="url(#c1)">
<rect x="14" y="233" width="96" height="96" fill="#000"/>
<path d="M113.4 249.1 L100.0 250.2 L90.5 251.9 L80.9 252.9 L71.4 254.6 L61.8 257.9 L52.2 261.9 L42.7 267.4 L33.1 271.6 L25.9 276.2 L21.6 284.2 L23.6 291.9 L29.3 297.6 L38.9 300.7 L52.2 302.8 L61.8 304.3 L71.4 306.8 L80.9 309.7 L90.5 313.1 L100.0 317.3 L113.4 322.5 L113.4 309.9 L100.0 303.7 L90.5 299.2 L80.9 295.3 L71.4 292.5 L61.8 289.6 L52.2 286.7 L45.0 283.7 L52.2 278.1 L61.8 272.4 L71.4 268.6 L80.9 265.3 L90.5 263.4 L100.0 261.9 L113.4 261.7Z" fill="#e80000" filter="url(#rough)"/>
<g fill="#dc0000" filter="url(#b03)" opacity="1"><ellipse cx="77.1" cy="285.9" rx="1.56" ry="0.92" transform="rotate(-7 77.1 285.9)"/><ellipse cx="80.5" cy="286.7" rx="1.06" ry="0.62" transform="rotate(-4 80.5 286.7)"/><ellipse cx="87.8" cy="292.6" rx="1.00" ry="0.59" transform="rotate(-17 87.8 292.6)"/><ellipse cx="55.4" cy="284.6" rx="1.41" ry="0.83" transform="rotate(-32 55.4 284.6)"/><ellipse cx="108.9" cy="304.8" rx="1.38" ry="0.81" transform="rotate(2 108.9 304.8)"/><ellipse cx="59.4" cy="282.0" rx="1.29" ry="0.76" transform="rotate(-31 59.4 282.0)"/><ellipse cx="61.4" cy="282.7" rx="0.96" ry="0.56" transform="rotate(-7 61.4 282.7)"/><ellipse cx="76.4" cy="290.6" rx="1.29" ry="0.76" transform="rotate(3 76.4 290.6)"/><ellipse cx="80.0" cy="288.1" rx="1.25" ry="0.73" transform="rotate(-18 80.0 288.1)"/><ellipse cx="109.9" cy="306.5" rx="1.51" ry="0.89" transform="rotate(7 109.9 306.5)"/><ellipse cx="68.9" cy="281.4" rx="1.13" ry="0.67" transform="rotate(-31 68.9 281.4)"/><ellipse cx="96.0" cy="282.4" rx="1.51" ry="0.89" transform="rotate(-12 96.0 282.4)"/><ellipse cx="107.5" cy="299.6" rx="0.94" ry="0.55" transform="rotate(-22 107.5 299.6)"/><ellipse cx="104.6" cy="284.6" rx="1.60" ry="0.94" transform="rotate(-11 104.6 284.6)"/><ellipse cx="54.4" cy="284.1" rx="1.46" ry="0.86" transform="rotate(-19 54.4 284.1)"/><ellipse cx="55.2" cy="283.8" rx="1.59" ry="0.94" transform="rotate(10 55.2 283.8)"/><ellipse cx="57.1" cy="283.4" rx="1.00" ry="0.59" transform="rotate(-31 57.1 283.4)"/><ellipse cx="97.8" cy="275.0" rx="1.32" ry="0.77" transform="rotate(-8 97.8 275.0)"/><ellipse cx="61.4" cy="285.7" rx="1.02" ry="0.60" transform="rotate(4 61.4 285.7)"/><ellipse cx="57.0" cy="283.9" rx="1.08" ry="0.64" transform="rotate(-19 57.0 283.9)"/><ellipse cx="108.3" cy="298.1" rx="1.14" ry="0.67" transform="rotate(18 108.3 298.1)"/><ellipse cx="62.6" cy="283.6" rx="1.52" ry="0.89" transform="rotate(4 62.6 283.6)"/><ellipse cx="56.0" cy="285.1" rx="1.08" ry="0.64" transform="rotate(-20 56.0 285.1)"/><ellipse cx="96.4" cy="280.1" rx="1.14" ry="0.67" transform="rotate(-31 96.4 280.1)"/><ellipse cx="55.4" cy="284.2" rx="1.10" ry="0.65" transform="rotate(1 55.4 284.2)"/><ellipse cx="72.3" cy="284.0" rx="1.59" ry="0.93" transform="rotate(-6 72.3 284.0)"/><ellipse cx="84.5" cy="293.4" rx="1.06" ry="0.62" transform="rotate(-26 84.5 293.4)"/><ellipse cx="104.5" cy="297.7" rx="1.10" ry="0.65" transform="rotate(-24 104.5 297.7)"/><ellipse cx="94.4" cy="298.7" rx="1.07" ry="0.63" transform="rotate(22 94.4 298.7)"/><ellipse cx="102.9" cy="289.5" rx="1.22" ry="0.72" transform="rotate(-29 102.9 289.5)"/><ellipse cx="107.8" cy="275.4" rx="1.41" ry="0.83" transform="rotate(-20 107.8 275.4)"/><ellipse cx="99.4" cy="288.8" rx="1.13" ry="0.67" transform="rotate(-24 99.4 288.8)"/><ellipse cx="93.2" cy="272.8" rx="1.09" ry="0.64" transform="rotate(-1 93.2 272.8)"/><ellipse cx="101.1" cy="289.6" rx="1.13" ry="0.66" transform="rotate(20 101.1 289.6)"/><ellipse cx="62.2" cy="281.1" rx="1.12" ry="0.66" transform="rotate(-8 62.2 281.1)"/><ellipse cx="53.6" cy="283.9" rx="1.19" ry="0.70" transform="rotate(-1 53.6 283.9)"/><ellipse cx="57.9" cy="283.7" rx="1.54" ry="0.91" transform="rotate(24 57.9 283.7)"/><ellipse cx="89.4" cy="290.3" rx="1.33" ry="0.78" transform="rotate(-27 89.4 290.3)"/><ellipse cx="104.6" cy="293.3" rx="1.59" ry="0.94" transform="rotate(-34 104.6 293.3)"/><ellipse cx="88.2" cy="284.7" rx="1.43" ry="0.84" transform="rotate(-16 88.2 284.7)"/><ellipse cx="110.0" cy="268.3" rx="1.31" ry="0.77" transform="rotate(9 110.0 268.3)"/><ellipse cx="104.0" cy="294.5" rx="1.41" ry="0.83" transform="rotate(13 104.0 294.5)"/><ellipse cx="104.9" cy="280.2" rx="1.40" ry="0.82" transform="rotate(19 104.9 280.2)"/><ellipse cx="102.3" cy="282.7" rx="1.47" ry="0.87" transform="rotate(17 102.3 282.7)"/></g>
<circle cx="27.4" cy="246.4" r="0.7" fill="#c00000"/>
<circle cx="57" cy="246" r="0.7" fill="#c00000"/>
<circle cx="69.4" cy="241.6" r="0.7" fill="#c00000"/>
<circle cx="68.5" cy="234" r="0.7" fill="#c00000"/>
<circle cx="70.2" cy="247.5" r="0.7" fill="#c00000"/>
<circle cx="36" cy="322" r="0.7" fill="#c00000"/>
<circle cx="98" cy="326" r="0.7" fill="#c00000"/>
<circle cx="71.4" cy="288.4" r="0.85" fill="#00b81a"/>
<circle cx="72.3" cy="290" r="0.85" fill="#00b81a"/>
<circle cx="67.5" cy="280.8" r="0.85" fill="#00b81a"/>
<circle cx="51.3" cy="284.6" r="0.85" fill="#00b81a"/>
<circle cx="73.3" cy="320" r="0.85" fill="#00b81a"/>
<circle cx="22.6" cy="234" r="0.85" fill="#00b81a"/>
<circle cx="23.6" cy="302.8" r="0.85" fill="#00b81a"/>
<circle cx="27.4" cy="306.6" r="0.85" fill="#00b81a"/>
<circle cx="31.2" cy="307.6" r="0.85" fill="#00b81a"/>
<circle cx="39.8" cy="306.6" r="0.85" fill="#00b81a"/>
<circle cx="41.7" cy="309.5" r="0.85" fill="#00b81a"/>
<circle cx="42.7" cy="306.6" r="0.85" fill="#00b81a"/>
<circle cx="54.2" cy="309.1" r="0.85" fill="#00b81a"/>
<circle cx="94.3" cy="298" r="0.85" fill="#00b81a"/>
<circle cx="54.2" cy="294.2" r="1.0" fill="#ffe8e8"/>
<circle cx="58.9" cy="293.8" r="1.0" fill="#ffe8e8"/>
<circle cx="59.9" cy="291.3" r="0.9" fill="#ffe8e8"/>
<circle cx="41.2" cy="298" r="1.1" fill="#ffe8e8"/>
<text x="17.90" y="242.30" font-size="6.6" fill="#fff" >SSA</text>
</g>
<g clip-path="url(#c2)">
<rect x="115" y="233" width="96" height="96" fill="#000"/>
<g fill="#e80000" filter="url(#rough)">
<path d="M111.2 271.2 L124.6 270.5 L134.1 269.5 L143.7 268.6 L153.2 266.8 L162.8 265.5 L172.4 260.9 L181.9 257.1 L191.5 254.2 L201.0 251.4 L214.4 246.4 L214.4 258.6 L201.0 263.2 L191.5 266.3 L181.9 270.1 L172.4 273.9 L162.8 277.7 L153.2 280.6 L143.7 281.6 L134.1 282.1 L124.6 281.6 L111.2 281.6Z"/>
<path d="M111.2 284.6 L124.6 288.4 L134.1 291.3 L143.7 294.2 L153.2 296.1 L162.8 298.0 L172.4 299.5 L181.9 300.3 L191.5 301.5 L201.0 302.8 L214.4 304.5 L214.4 314.6 L201.0 312.9 L191.5 311.8 L181.9 311.4 L172.4 310.8 L162.8 309.5 L153.2 308.3 L139.9 308.0 L134.1 304.7 L124.6 299.9 L111.2 295.0Z"/>
</g>
<g fill="#d40000" filter="url(#b03)" opacity="1"><ellipse cx="180.7" cy="286.8" rx="1.04" ry="0.65" transform="rotate(-0 180.7 286.8)"/><ellipse cx="183.2" cy="273.8" rx="1.21" ry="0.76" transform="rotate(25 183.2 273.8)"/><ellipse cx="202.5" cy="290.6" rx="1.05" ry="0.66" transform="rotate(9 202.5 290.6)"/><ellipse cx="181.2" cy="282.5" rx="1.34" ry="0.84" transform="rotate(-30 181.2 282.5)"/><ellipse cx="193.3" cy="270.2" rx="1.18" ry="0.74" transform="rotate(-6 193.3 270.2)"/><ellipse cx="156.3" cy="287.1" rx="1.12" ry="0.70" transform="rotate(2 156.3 287.1)"/><ellipse cx="205.4" cy="275.0" rx="0.81" ry="0.50" transform="rotate(-17 205.4 275.0)"/><ellipse cx="188.1" cy="275.9" rx="0.91" ry="0.57" transform="rotate(19 188.1 275.9)"/><ellipse cx="186.9" cy="282.3" rx="1.37" ry="0.86" transform="rotate(-15 186.9 282.3)"/><ellipse cx="187.3" cy="276.0" rx="1.08" ry="0.67" transform="rotate(13 187.3 276.0)"/><ellipse cx="204.9" cy="295.9" rx="1.05" ry="0.65" transform="rotate(-0 204.9 295.9)"/><ellipse cx="162.5" cy="279.0" rx="1.12" ry="0.70" transform="rotate(15 162.5 279.0)"/><ellipse cx="200.3" cy="290.0" rx="1.41" ry="0.88" transform="rotate(-18 200.3 290.0)"/><ellipse cx="152.0" cy="284.3" rx="0.98" ry="0.61" transform="rotate(-22 152.0 284.3)"/><ellipse cx="169.4" cy="286.5" rx="1.12" ry="0.70" transform="rotate(-16 169.4 286.5)"/><ellipse cx="199.6" cy="298.3" rx="1.09" ry="0.68" transform="rotate(-31 199.6 298.3)"/><ellipse cx="142.2" cy="287.4" rx="0.83" ry="0.52" transform="rotate(8 142.2 287.4)"/><ellipse cx="180.5" cy="279.6" rx="1.31" ry="0.82" transform="rotate(-34 180.5 279.6)"/><ellipse cx="149.6" cy="284.5" rx="0.82" ry="0.51" transform="rotate(15 149.6 284.5)"/><ellipse cx="156.9" cy="280.2" rx="0.83" ry="0.52" transform="rotate(3 156.9 280.2)"/><ellipse cx="171.7" cy="286.7" rx="1.22" ry="0.76" transform="rotate(13 171.7 286.7)"/><ellipse cx="208.1" cy="289.5" rx="0.93" ry="0.58" transform="rotate(-6 208.1 289.5)"/><ellipse cx="152.7" cy="279.5" rx="1.10" ry="0.69" transform="rotate(8 152.7 279.5)"/><ellipse cx="152.7" cy="282.4" rx="1.02" ry="0.64" transform="rotate(7 152.7 282.4)"/></g>
<g fill="#a80000" filter="url(#b03)" opacity="1"><circle cx="164.9" cy="251.6" r="0.61"/><circle cx="153.0" cy="256.4" r="0.67"/><circle cx="124.2" cy="260.2" r="0.60"/><circle cx="128.2" cy="247.2" r="0.57"/><circle cx="201.5" cy="245.2" r="0.55"/><circle cx="198.7" cy="256.5" r="0.68"/><circle cx="159.6" cy="252.6" r="0.42"/><circle cx="183.9" cy="257.1" r="0.57"/><circle cx="183.5" cy="240.8" r="0.66"/><circle cx="208.2" cy="261.4" r="0.54"/><circle cx="190.3" cy="243.7" r="0.67"/><circle cx="196.4" cy="244.4" r="0.38"/></g>
<g fill="#a00000" filter="url(#b03)" opacity="1"><circle cx="157.4" cy="323.5" r="0.62"/><circle cx="161.8" cy="318.3" r="0.63"/><circle cx="122.0" cy="326.0" r="0.41"/><circle cx="147.5" cy="325.9" r="0.40"/><circle cx="130.0" cy="323.2" r="0.60"/><circle cx="195.0" cy="324.9" r="0.68"/><circle cx="162.3" cy="327.5" r="0.38"/><circle cx="136.8" cy="323.3" r="0.45"/></g>
<circle cx="143.2" cy="238.2" r="0.8" fill="#00b81a"/>
<circle cx="180.6" cy="287.0" r="0.8" fill="#00b81a"/>
<circle cx="184.5" cy="274.4" r="0.8" fill="#00b81a"/>
<circle cx="186.2" cy="285.4" r="0.8" fill="#00b81a"/>
<circle cx="195" cy="292.4" r="0.8" fill="#00b81a"/>
<circle cx="199.6" cy="300.8" r="0.8" fill="#00b81a"/>
<circle cx="147.4" cy="294.4" r="0.8" fill="#00b81a"/>
<circle cx="135.6" cy="283.2" r="0.8" fill="#00b81a"/>
<circle cx="130.4" cy="286.0" r="0.8" fill="#00b81a"/>
<circle cx="158.0" cy="256.8" r="0.8" fill="#00b81a"/>
<circle cx="163.6" cy="300.2" r="0.8" fill="#00b81a"/>
<circle cx="131.2" cy="283.2" r="0.8" fill="#d8c000"/>
<circle cx="166.4" cy="277.2" r="0.8" fill="#d8c000"/>
<circle cx="129" cy="285.4" r="0.8" fill="#d8c000"/>
<circle cx="141.6" cy="293.4" r="0.8" fill="#d8c000"/>
<circle cx="126.2" cy="289.6" r="1.0" fill="#fff0f0"/>
<circle cx="132.2" cy="284.6" r="0.9" fill="#fff0f0"/>
<circle cx="132.8" cy="287.4" r="0.8" fill="#fff0f0"/>
<circle cx="142.4" cy="284.8" r="0.9" fill="#fff0f0"/>
<circle cx="151.6" cy="283.6" r="0.9" fill="#fff0f0"/>
<circle cx="169.2" cy="278.4" r="0.9" fill="#fff0f0"/>
<circle cx="196.4" cy="265.6" r="0.9" fill="#fff0f0"/>
<circle cx="174.0" cy="301.6" r="0.9" fill="#fff0f0"/>
<circle cx="187.4" cy="302.8" r="0.9" fill="#fff0f0"/>
<circle cx="191.4" cy="305.6" r="0.9" fill="#fff0f0"/>
<circle cx="201.8" cy="304.2" r="0.9" fill="#fff0f0"/>
<circle cx="128.4" cy="281.8" r="0.8" fill="#fff0f0"/>
<text x="118.30" y="242.30" font-size="6.7" fill="#fff" >MSA</text>
<line x1="198.40" y1="324.20" x2="207.50" y2="324.20" stroke="#fff" stroke-width="1.5" />
</g>
<g clip-path="url(#g1)">
<rect x="22" y="572" width="68" height="113" fill="#000700"/>
<rect x="22" y="572" width="68" height="113" filter="url(#gnoise)" opacity="0.22"/>
<ellipse cx="56" cy="636" rx="30" ry="22" fill="#083008" filter="url(#b6)" opacity="0.45"/>
<rect x="22" y="572" width="68" height="113" fill="url(#fade1)"/>
<g fill="none" stroke="#1a8a1a" stroke-width="0.9" stroke-linecap="round" stroke-linejoin="round" stroke-dasharray="1.3 0.7" filter="url(#wig)" opacity="0.32">
<polyline points="28.5,581.8 34.3,601.4 40.0,621.0 46.5,637.4"/>
<polyline points="59.6,576.9 57.1,604.7 53.0,625.9 54.7,643.9"/>
<polyline points="69.4,578.5 66.1,598.1 62.8,617.8 61.2,637.4"/>
<polyline points="46.5,591.6 49.8,612.8 54.7,637.4"/>
<polyline points="82.5,581.8 80.0,598.1 75.9,614.5 71.0,634.1"/>
<polyline points="38.3,578.5 41.6,596.5 44.1,614.5"/>
<polyline points="53.0,575.3 51.4,593.2 48.1,609.6"/>
<polyline points="31.8,612.8 30.2,629.2 34.3,645.5"/>
<polyline points="84.1,617.8 83.3,634.1 79.2,648.8"/>
<polyline points="64.5,575.3 67.8,590.0 72.7,604.7"/>
<polyline points="87.4,581.8 85.7,596.5 87.4,611.2"/>
</g>
<g fill="none" stroke="#22c022" stroke-width="2.0" stroke-linecap="round" stroke-linejoin="round" filter="url(#wig2)" opacity="0.3">
<polyline points="40.8,621.0 48.1,636.5 54.7,651.2"/>
<polyline points="71.8,626.7 63.7,640.6 56.6,651.2"/>
<polyline points="87.4,609.6 84.9,624.3 78.4,639.0"/>
<polyline points="34.3,646.3 38.3,640.6"/>
<polyline points="33.4,648.8 34.3,657.0"/>
<polyline points="58.8,648.8 62.0,646.3"/>
<polyline points="62.0,634.6 64.8,633.8"/>
<polyline points="78.4,650.4 80.8,653.7 82.8,657.0"/>
</g>
<g fill="none" stroke="#28cc28" stroke-width="0.95" stroke-linecap="round" stroke-linejoin="round" stroke-dasharray="1.7 0.4" filter="url(#wig)" opacity="0.75">
<polyline points="40.8,621.0 48.1,636.5 54.7,651.2"/>
<polyline points="71.8,626.7 63.7,640.6 56.6,651.2"/>
<polyline points="87.4,609.6 84.9,624.3 78.4,639.0"/>
<polyline points="34.3,646.3 38.3,640.6"/>
<polyline points="33.4,648.8 34.3,657.0"/>
<polyline points="58.8,648.8 62.0,646.3"/>
<polyline points="62.0,634.6 64.8,633.8"/>
<polyline points="78.4,650.4 80.8,653.7 82.8,657.0"/>
</g>
<g fill="none" stroke="#24c424" stroke-width="0.9" stroke-linecap="round" stroke-linejoin="round" stroke-dasharray="1.4 0.5" filter="url(#wig)" opacity="0.6">
<polyline points="74.3,612.8 75.9,599.8 76.7,588.3 71.0,576.9"/>
<polyline points="78.4,593.2 80.8,596.5 83.3,594.1"/>
</g>
<g fill="none" stroke="#40f040" stroke-width="2.2" stroke-linecap="round" stroke-linejoin="round" filter="url(#b03)" opacity="1">
<polyline points="55.8,661.9 55.5,651.7"/>
</g>
<ellipse cx="34.3" cy="659.7" rx="2.3" ry="3.0" fill="#38f038" filter="url(#b05)"/>
<ellipse cx="44.1" cy="659.4" rx="3.0" ry="1.9" fill="#1ca01c" filter="url(#b05)"/>
<ellipse cx="50.1" cy="661.5" rx="2.8" ry="2.6" fill="#3cf43c" filter="url(#b05)"/>
<ellipse cx="55.5" cy="663.8" rx="3.0" ry="3.6" fill="#48ff48" filter="url(#b05)"/>
<ellipse cx="82.8" cy="658.1" rx="2.0" ry="2.0" fill="#34e834" filter="url(#b05)"/>
<ellipse cx="87.7" cy="662.4" rx="1.8" ry="2.4" fill="#34e834" filter="url(#b05)"/>
<ellipse cx="41.6" cy="646.3" rx="0.9" ry="1.5" fill="#2ad02a" filter="url(#b05)"/>
<ellipse cx="22.5" cy="650.1" rx="1.2" ry="2.0" fill="#2ad02a" filter="url(#b05)"/>
<ellipse cx="77.2" cy="620.5" rx="0.7" ry="0.7" fill="#2ad02a" filter="url(#b05)"/>
<ellipse cx="84.9" cy="612.0" rx="0.7" ry="0.7" fill="#2ad02a" filter="url(#b05)"/>
<ellipse cx="63.2" cy="634.1" rx="0.8" ry="0.6" fill="#2ad02a" filter="url(#b05)"/>
<g fill="#1a7a1a" filter="url(#b03)" opacity="0.7"><circle cx="71.1" cy="678.2" r="0.43"/><circle cx="78.7" cy="677.0" r="0.38"/><circle cx="48.2" cy="681.5" r="0.53"/><circle cx="36.7" cy="681.6" r="0.54"/><circle cx="57.6" cy="677.2" r="0.35"/><circle cx="58.4" cy="676.1" r="0.45"/><circle cx="24.8" cy="683.5" r="0.43"/><circle cx="49.4" cy="680.8" r="0.44"/><circle cx="55.4" cy="679.1" r="0.32"/><circle cx="58.6" cy="674.6" r="0.54"/><circle cx="83.9" cy="672.3" r="0.42"/><circle cx="31.4" cy="674.9" r="0.50"/><circle cx="82.4" cy="675.6" r="0.38"/><circle cx="35.6" cy="677.9" r="0.53"/><circle cx="31.5" cy="680.5" r="0.31"/><circle cx="35.8" cy="671.6" r="0.47"/><circle cx="44.3" cy="673.7" r="0.45"/><circle cx="29.9" cy="679.7" r="0.33"/><circle cx="56.7" cy="672.0" r="0.35"/><circle cx="58.0" cy="675.0" r="0.39"/><circle cx="50.3" cy="676.5" r="0.34"/><circle cx="36.5" cy="678.1" r="0.46"/><circle cx="58.0" cy="681.6" r="0.45"/><circle cx="79.5" cy="671.7" r="0.49"/><circle cx="76.5" cy="682.4" r="0.38"/><circle cx="43.8" cy="682.8" r="0.35"/></g>
<line x1="77.20" y1="676.20" x2="85.00" y2="676.20" stroke="#f4f4f4" stroke-width="1.5" />
</g>
<g clip-path="url(#g2)">
<rect x="161" y="572" width="68" height="113" fill="#000600"/>
<rect x="161" y="572" width="68" height="113" filter="url(#gnoise2)" opacity="0.2"/>
<ellipse cx="210" cy="630" rx="18" ry="36" fill="#083008" filter="url(#b6)" opacity="0.5"/>
<rect x="161" y="572" width="68" height="113" fill="url(#fade2)" opacity="0.6"/>
<g fill="none" stroke="#189018" stroke-width="0.9" stroke-linecap="round" stroke-linejoin="round" stroke-dasharray="1.3 0.7" filter="url(#wig)" opacity="0.42">
<polyline points="210.0,670.0 213.3,657.0 219.8,643.9"/>
<polyline points="191.2,668.4 190.1,673.3 189.6,679.0"/>
<polyline points="203.8,598.1 204.8,588.3 204.3,578.5"/>
<polyline points="214.9,625.9 214.6,609.6 213.0,596.5 210.0,586.7"/>
<polyline points="208.4,590.0 207.4,581.8 206.8,576.1"/>
<polyline points="177.3,601.4 179.8,607.1"/>
<polyline points="219.0,617.8 219.8,634.1 216.6,648.8"/>
<polyline points="200.2,625.9 197.8,637.4 198.3,642.3"/>
<polyline points="205.1,640.6 210.0,625.9 211.7,612.8"/>
<polyline points="226.4,603.0 227.7,591.6 226.4,581.8"/>
</g>
<g fill="none" stroke="#22c022" stroke-width="2.2" stroke-linecap="round" stroke-linejoin="round" filter="url(#wig2)" opacity="0.32">
<polyline points="194.5,665.5 199.4,652.1 201.0,637.4 200.2,625.9 201.8,612.8 203.8,598.1"/>
<polyline points="199.4,652.1 208.4,640.6 214.9,625.9 221.5,611.2 226.7,602.2"/>
<polyline points="192.9,635.7 193.4,621.0 193.2,604.7"/>
<polyline points="222.8,660.2 222.3,642.3 223.9,625.9 226.4,607.9"/>
<polyline points="193.7,666.4 185.5,662.7"/>
<polyline points="199.4,652.1 191.2,653.7 185.8,646.3"/>
<polyline points="214.1,663.5 217.4,667.1"/>
</g>
<g fill="none" stroke="#28cc28" stroke-width="1.0" stroke-linecap="round" stroke-linejoin="round" stroke-dasharray="1.8 0.4" filter="url(#wig)" opacity="0.75">
<polyline points="194.5,665.5 199.4,652.1 201.0,637.4 200.2,625.9 201.8,612.8 203.8,598.1"/>
<polyline points="199.4,652.1 208.4,640.6 214.9,625.9 221.5,611.2 226.7,602.2"/>
<polyline points="192.9,635.7 193.4,621.0 193.2,604.7"/>
<polyline points="222.8,660.2 222.3,642.3 223.9,625.9 226.4,607.9"/>
<polyline points="193.7,666.4 185.5,662.7"/>
<polyline points="199.4,652.1 191.2,653.7 185.8,646.3"/>
<polyline points="214.1,663.5 217.4,667.1"/>
</g>
<g fill="none" stroke="#3cf03c" stroke-width="1.6" stroke-linecap="round" stroke-linejoin="round" filter="url(#b03)" opacity="1">
<polyline points="223.1,664.3 222.6,648.8"/>
</g>
<ellipse cx="193.7" cy="666.8" rx="3.3" ry="3.5" fill="#46ff46" filter="url(#b05)"/>
<ellipse cx="223.1" cy="664.8" rx="2.6" ry="4.2" fill="#46ff46" filter="url(#b05)"/>
<ellipse cx="210.8" cy="672.8" rx="2.2" ry="2.6" fill="#40f840" filter="url(#b05)"/>
<ellipse cx="202.7" cy="676.1" rx="2.2" ry="2.4" fill="#40f840" filter="url(#b05)"/>
<ellipse cx="213.0" cy="681.8" rx="2.3" ry="3.0" fill="#40f840" filter="url(#b05)"/>
<ellipse cx="220.2" cy="682.5" rx="1.9" ry="2.8" fill="#40f840" filter="url(#b05)"/>
<ellipse cx="206.8" cy="683.8" rx="1.6" ry="1.6" fill="#38e838" filter="url(#b05)"/>
<ellipse cx="217.4" cy="679.8" rx="1.0" ry="2.0" fill="#38e838" filter="url(#b05)"/>
<ellipse cx="185.5" cy="632.5" rx="0.8" ry="0.8" fill="#2ad02a" filter="url(#b05)"/>
<ellipse cx="182.2" cy="629.2" rx="0.7" ry="0.7" fill="#2ad02a" filter="url(#b05)"/>
<ellipse cx="183.9" cy="584.3" rx="0.7" ry="0.7" fill="#25b025" filter="url(#b05)"/>
<ellipse cx="205.1" cy="616.9" rx="0.6" ry="0.6" fill="#2ad02a" filter="url(#b05)"/>
<ellipse cx="210.0" cy="576.9" rx="0.6" ry="0.6" fill="#25c025" filter="url(#b05)"/>
<ellipse cx="216.6" cy="580.2" rx="0.5" ry="0.5" fill="#25c025" filter="url(#b05)"/>
<ellipse cx="182.2" cy="579.4" rx="0.5" ry="0.5" fill="#25c025" filter="url(#b05)"/>
<ellipse cx="176.5" cy="615.3" rx="0.5" ry="0.5" fill="#25c025" filter="url(#b05)"/>
<ellipse cx="205.9" cy="622.7" rx="0.5" ry="0.5" fill="#25c025" filter="url(#b05)"/>
<ellipse cx="212.5" cy="581.5" rx="0.5" ry="0.5" fill="#25c025" filter="url(#b05)"/>
<line x1="216.00" y1="676.00" x2="224.60" y2="676.00" stroke="#e0e0e0" stroke-width="1.5" />
</g>
<rect x="22.2" y="572.4" width="133.2" height="111.8" fill="none" stroke="#000" stroke-width="1"/>
<rect x="162.0" y="572.4" width="132.7" height="111.8" fill="none" stroke="#000" stroke-width="1"/>
<rect x="89.4" y="572.9" width="65.5" height="110.8" fill="#fff"/>
<rect x="228.8" y="572.9" width="65.4" height="110.8" fill="#fff"/>
<line x1="89.40" y1="572.40" x2="89.40" y2="684.20" stroke="#000" stroke-width="1.0" />
<line x1="228.80" y1="572.40" x2="228.80" y2="684.20" stroke="#000" stroke-width="1.0" />
<text x="88.90" y="568.60" font-size="7.85" text-anchor="middle" >SSA</text>
<text x="227.80" y="568.60" font-size="7.8" text-anchor="middle" >MSA</text>
<g fill="none" stroke="#000" stroke-width="0.85" stroke-linecap="round" stroke-linejoin="round" opacity="1">
<polyline points="121.8,660.3 121.5,652.9 118.5,647.1 116.1,638.0 111.1,628.1 108.6,621.5 106.2,614.1 104.2,608.0"/>
<polyline points="111.1,626.5 110.3,619.9 108.6,611.6 107.5,605.0 108.3,598.4"/>
<polyline points="121.5,652.9 127.6,644.6 131.8,635.6 136.7,626.5 139.5,616.6 140.8,606.7 142.2,597.6 143.8,590.2 144.6,586.0"/>
<polyline points="142.2,597.6 139.2,590.2 136.7,582.7"/>
</g>
<polygon points="121.8,660.3 119.4,664.1 122.7,667.4 124.7,666.1 123.5,662.0" fill="#fff" stroke="#000" stroke-width="0.85" stroke-linejoin="round"/>
<g fill="none" stroke="#000" stroke-width="0.85" stroke-linecap="round" stroke-linejoin="round" opacity="1">
<polyline points="262.0,665.0 264.6,657.9 266.6,651.2 265.3,644.6 264.6,638.0 265.8,629.8 267.4,619.9 269.1,613.3 270.8,607.5 271.6,601.7 270.3,597.6"/>
<polyline points="269.1,613.3 267.1,607.5 266.6,600.1 267.9,591.5"/>
<polyline points="266.6,651.2 271.6,644.6 275.7,636.4 279.0,626.5 282.3,618.2 284.5,614.1"/>
<polyline points="282.3,616.6 282.3,609.1"/>
<polyline points="268.3,641.3 270.8,633.1 273.2,623.2"/>
<polyline points="267.9,638.0 269.1,629.8 270.3,621.5"/>
<polyline points="258.4,664.8 255.9,663.8 251.4,662.0"/>
<polyline points="256.7,663.8 258.7,658.7 254.2,651.2 250.1,644.6 249.3,640.0"/>
</g>
<circle cx="260.5" cy="667.3" r="2.5" fill="#fff" stroke="#000" stroke-width="0.85"/>
</svg>
</body></html>
